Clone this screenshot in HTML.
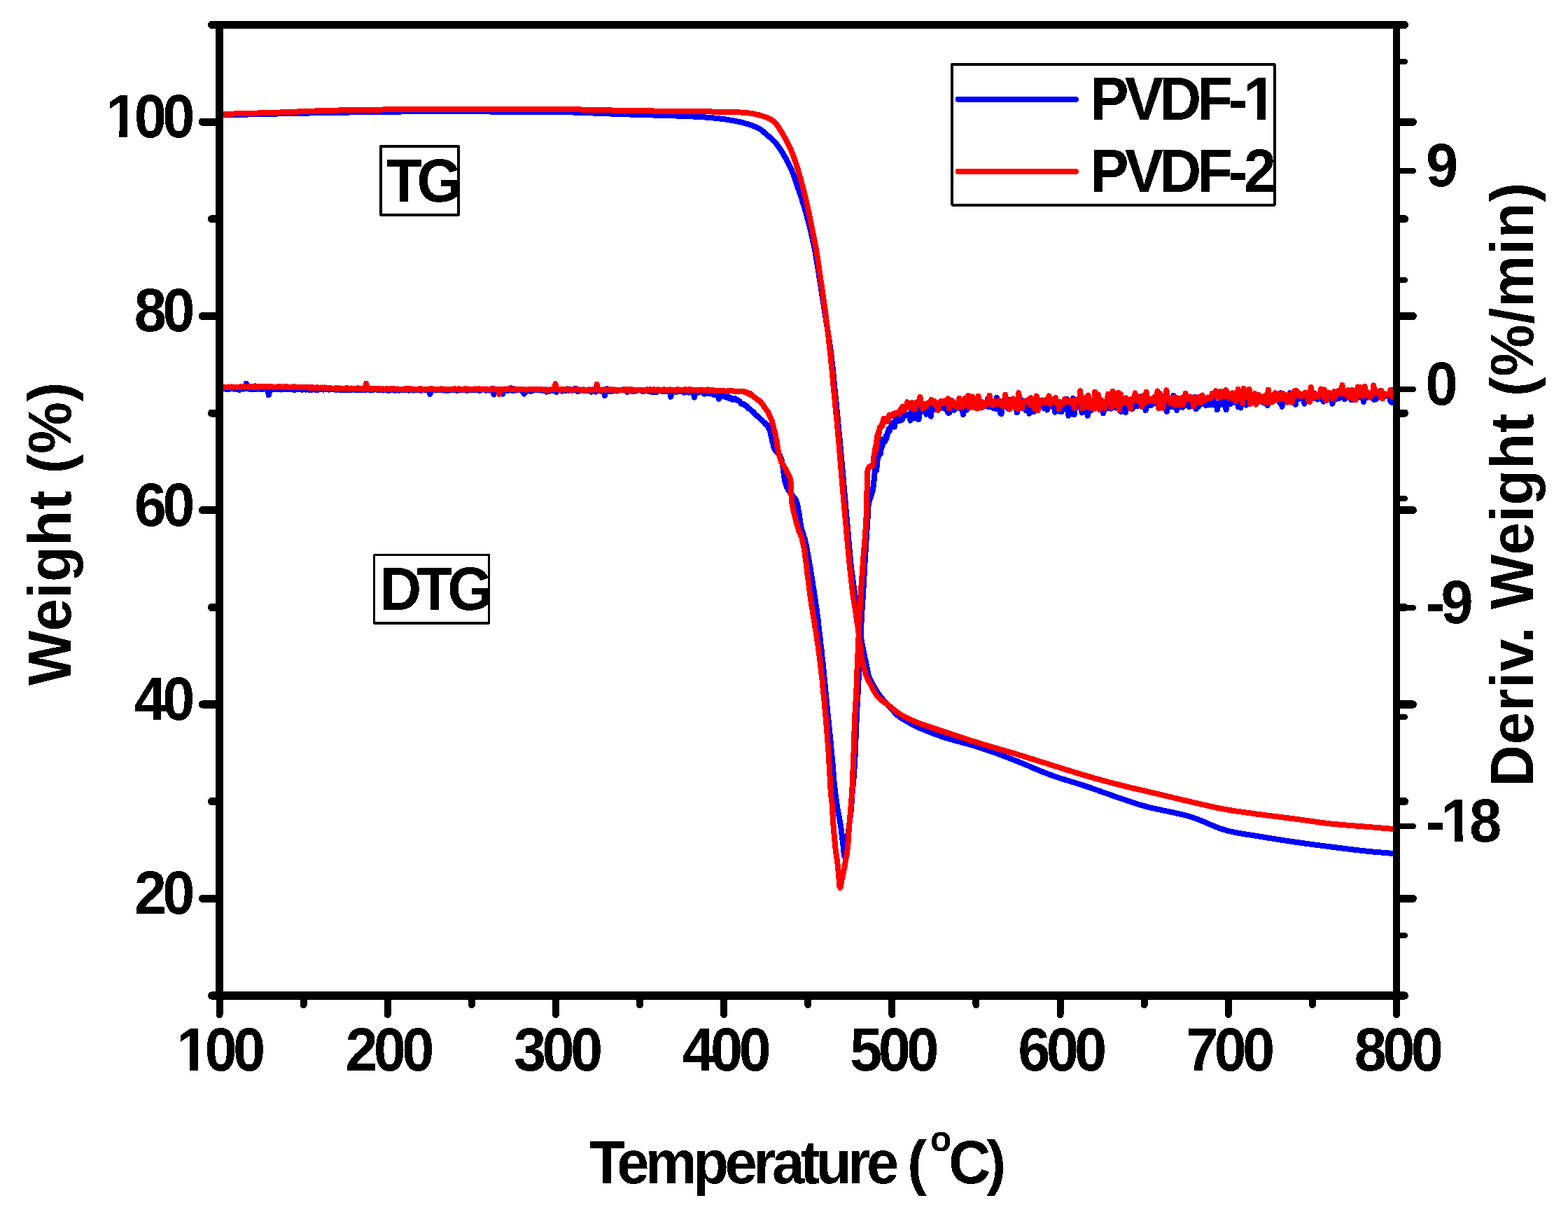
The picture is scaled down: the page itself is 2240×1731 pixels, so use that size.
<!DOCTYPE html>
<html><head><meta charset="utf-8"><title>TGA PVDF</title><style>html,body{margin:0;padding:0;background:#fff;overflow:hidden}svg{display:block}</style></head><body>
<svg width="2240" height="1731" viewBox="0 0 2240 1731" font-family="'Liberation Sans', Arial, sans-serif" font-weight="bold" fill="#000" shape-rendering="crispEdges"><defs><clipPath id="pc"><rect x="308" y="30" width="1692" height="1398"/></clipPath><filter id="bin" x="0" y="0" width="2240" height="1731" filterUnits="userSpaceOnUse" color-interpolation-filters="sRGB"><feComponentTransfer><feFuncA type="discrete" tableValues="0 1"/></feComponentTransfer></filter></defs>
<g clip-path="url(#pc)">
<polyline points="313.5,164.5 320.1,164.3 328.7,164.1 339.0,163.9 350.5,163.6 362.8,163.3 375.4,163.0 388.0,162.7 400.0,162.4 411.9,162.1 424.1,161.9 436.5,161.6 449.2,161.4 461.9,161.2 474.7,160.9 487.4,160.7 500.0,160.5 512.5,160.3 525.0,160.1 537.5,159.9 550.0,159.8 562.5,159.6 575.0,159.5 587.5,159.4 600.0,159.3 612.5,159.3 625.0,159.2 637.5,159.3 650.0,159.3 662.5,159.3 675.0,159.4 687.5,159.5 700.0,159.5 712.5,159.5 725.0,159.5 737.5,159.5 750.0,159.5 762.5,159.6 775.0,159.7 787.5,159.8 800.0,160.0 812.5,160.3 825.0,160.7 837.5,161.1 850.0,161.6 862.5,162.1 875.0,162.6 887.5,163.0 900.0,163.5 912.8,163.9 926.2,164.3 939.7,164.7 953.1,165.1 966.2,165.5 978.5,166.0 989.9,166.5 1000.0,167.0 1008.8,167.6 1016.5,168.2 1023.3,168.9 1029.4,169.6 1034.9,170.3 1040.1,171.1 1045.0,171.9 1050.0,172.8 1054.8,173.7 1059.3,174.7 1063.4,175.8 1067.2,176.9 1070.7,178.0 1074.0,179.1 1077.1,180.3 1080.0,181.5 1082.6,182.7 1084.8,183.8 1086.6,185.0 1088.3,186.2 1089.9,187.5 1091.5,188.9 1093.1,190.4 1095.0,192.0 1097.0,193.7 1099.1,195.5 1101.2,197.4 1103.4,199.4 1105.5,201.5 1107.7,203.9 1109.9,206.4 1112.0,209.2 1114.2,212.3 1116.4,215.7 1118.6,219.4 1120.8,223.2 1123.0,227.1 1125.1,231.1 1127.1,235.0 1128.9,238.8 1130.6,242.5 1132.1,246.2 1133.6,249.9 1134.9,253.7 1136.2,257.4 1137.5,261.1 1138.7,264.8 1140.0,268.5 1141.3,272.2 1142.5,275.9 1143.8,279.6 1145.0,283.3 1146.2,287.0 1147.4,290.7 1148.5,294.4 1149.6,298.1 1150.7,301.8 1151.7,305.5 1152.7,309.2 1153.7,312.9 1154.7,316.6 1155.7,320.3 1156.6,324.0 1157.5,327.7 1158.4,331.4 1159.3,335.1 1160.1,338.8 1160.9,342.5 1161.7,346.2 1162.5,349.9 1163.3,353.6 1164.0,357.3 1164.7,360.8 1165.3,364.1 1165.8,367.3 1166.4,370.5 1166.9,374.0 1167.5,377.7 1168.2,382.0 1169.0,386.9 1169.9,392.5 1170.9,398.6 1171.9,405.3 1173.0,412.2 1174.1,419.5 1175.2,426.9 1176.4,434.3 1177.5,441.6 1178.7,449.0 1179.9,456.5 1181.1,464.2 1182.4,472.0 1183.6,479.8 1184.8,487.6 1185.9,495.5 1187.0,503.2 1188.0,510.9 1188.8,518.6 1189.7,526.3 1190.5,534.0 1191.2,541.7 1192.0,549.4 1192.7,557.1 1193.5,564.8 1194.3,572.5 1195.1,580.4 1195.8,588.2 1196.6,596.0 1197.3,603.8 1198.1,611.4 1198.8,619.0 1199.5,626.4 1200.2,633.6 1200.8,640.5 1201.4,647.3 1202.0,654.0 1202.6,660.7 1203.2,667.5 1203.9,674.4 1204.5,681.6 1205.2,689.0 1205.8,696.6 1206.5,704.2 1207.2,712.0 1207.9,719.8 1208.6,727.7 1209.3,735.5 1210.0,743.2 1210.7,751.0 1211.4,759.0 1212.0,767.0 1212.7,775.0 1213.4,782.9 1214.1,790.6 1214.8,797.9 1215.5,804.8 1216.2,811.4 1217.0,817.9 1217.9,824.2 1218.7,830.2 1219.5,835.9 1220.2,841.1 1220.9,845.8 1221.5,850.0 1222.0,853.3 1222.3,855.7 1222.6,857.5 1222.8,858.9 1223.1,860.3 1223.3,861.8 1223.6,863.7 1224.0,866.4 1224.5,869.8 1225.0,873.8 1225.6,878.1 1226.2,882.7 1226.8,887.3 1227.4,891.8 1227.9,896.1 1228.5,900.0 1229.0,903.5 1229.5,906.9 1230.0,910.0 1230.5,913.1 1231.0,916.0 1231.5,918.9 1232.0,921.7 1232.5,924.6 1233.0,927.4 1233.6,930.2 1234.2,932.9 1234.7,935.6 1235.3,938.2 1235.9,940.8 1236.4,943.4 1237.0,946.0 1237.5,948.7 1238.1,951.4 1238.6,954.1 1239.1,956.8 1239.7,959.4 1240.2,961.9 1240.8,964.3 1241.5,966.5 1242.2,968.5 1243.0,970.3 1243.8,972.0 1244.6,973.6 1245.4,975.1 1246.3,976.6 1247.1,978.1 1248.0,979.6 1248.8,981.1 1249.7,982.6 1250.5,984.1 1251.4,985.5 1252.3,986.9 1253.2,988.3 1254.1,989.7 1255.0,991.0 1256.0,992.3 1256.9,993.6 1257.9,994.9 1258.9,996.2 1260.0,997.4 1261.0,998.6 1262.0,999.8 1263.0,1001.0 1264.0,1002.1 1264.9,1003.1 1265.9,1004.1 1266.8,1005.1 1267.8,1006.1 1268.8,1007.2 1269.9,1008.3 1271.0,1009.5 1272.2,1010.9 1273.5,1012.3 1274.9,1013.9 1276.2,1015.5 1277.7,1017.1 1279.1,1018.7 1280.6,1020.1 1282.1,1021.5 1283.6,1022.7 1285.2,1023.9 1286.8,1025.0 1288.4,1026.1 1290.1,1027.1 1291.7,1028.1 1293.4,1029.0 1295.0,1030.0 1296.6,1031.0 1298.3,1031.9 1300.0,1032.8 1301.7,1033.7 1303.3,1034.6 1305.0,1035.4 1306.6,1036.2 1308.2,1037.0 1309.6,1037.7 1310.8,1038.3 1311.9,1038.9 1313.1,1039.4 1314.3,1040.0 1315.8,1040.6 1317.7,1041.4 1320.0,1042.3 1322.7,1043.4 1325.8,1044.6 1329.0,1045.9 1332.6,1047.3 1336.5,1048.8 1340.7,1050.3 1345.2,1051.9 1350.0,1053.5 1355.3,1055.1 1361.1,1056.8 1367.3,1058.5 1373.8,1060.2 1380.4,1062.0 1387.0,1063.9 1393.6,1065.8 1400.0,1067.8 1406.2,1069.9 1412.5,1072.0 1418.8,1074.2 1425.0,1076.5 1431.2,1078.8 1437.5,1081.2 1443.8,1083.6 1450.0,1086.0 1456.2,1088.5 1462.5,1091.1 1468.8,1093.7 1475.0,1096.4 1481.2,1099.0 1487.5,1101.6 1493.8,1104.1 1500.0,1106.5 1506.2,1108.7 1512.5,1110.8 1518.8,1112.8 1525.0,1114.7 1531.2,1116.6 1537.5,1118.5 1543.8,1120.5 1550.0,1122.5 1556.3,1124.6 1562.7,1126.9 1569.2,1129.2 1575.6,1131.5 1582.0,1133.7 1588.2,1135.9 1594.2,1138.0 1600.0,1140.0 1605.3,1141.8 1610.2,1143.5 1614.9,1145.0 1619.4,1146.5 1624.0,1148.0 1628.8,1149.5 1634.1,1151.0 1640.0,1152.6 1646.6,1154.2 1653.8,1155.8 1661.5,1157.4 1669.4,1159.0 1677.4,1160.7 1685.2,1162.5 1692.8,1164.3 1700.0,1166.3 1706.7,1168.5 1713.2,1170.9 1719.5,1173.5 1725.6,1176.2 1731.7,1178.8 1737.7,1181.3 1743.8,1183.5 1750.0,1185.5 1756.2,1187.1 1762.5,1188.5 1768.8,1189.7 1775.0,1190.8 1781.2,1191.8 1787.5,1192.7 1793.8,1193.7 1800.0,1194.7 1806.2,1195.8 1812.5,1196.8 1818.8,1197.8 1825.0,1198.8 1831.2,1199.8 1837.5,1200.7 1843.8,1201.7 1850.0,1202.6 1856.2,1203.5 1862.5,1204.4 1868.8,1205.2 1875.0,1206.1 1881.2,1206.9 1887.5,1207.7 1893.8,1208.5 1900.0,1209.3 1906.3,1210.1 1912.6,1210.9 1918.9,1211.7 1925.2,1212.5 1931.5,1213.3 1937.7,1214.0 1943.9,1214.7 1950.0,1215.4 1956.3,1216.0 1963.1,1216.7 1969.9,1217.3 1976.6,1217.8 1982.9,1218.4 1988.6,1218.8 1993.4,1219.2 1997.0,1219.5" fill="none" stroke="#0000ff" stroke-width="8" stroke-linejoin="round" stroke-linecap="round"/>
<polyline points="313.5,554.4 315.1,555.2 316.7,554.4 318.3,555.0 319.9,554.5 321.5,554.5 323.1,555.9 324.7,555.6 326.3,556.4 327.9,555.0 329.5,555.2 331.1,555.3 332.7,555.4 334.3,555.6 335.9,554.4 337.5,555.7 339.1,554.6 340.7,555.3 342.3,557.0 343.9,555.4 345.5,555.3 347.1,555.8 348.7,555.5 350.3,555.0 351.9,547.7 353.5,555.3 355.1,555.0 356.7,556.1 358.3,555.8 359.9,556.3 361.5,556.1 363.1,555.7 364.7,555.6 366.3,555.6 367.9,555.5 369.5,555.4 371.1,555.8 372.7,555.2 374.3,555.8 375.9,555.8 377.5,554.3 379.1,554.8 380.7,556.5 382.3,555.8 383.9,564.4 385.5,556.3 387.1,556.2 388.7,556.0 390.3,555.4 391.9,556.4 393.5,556.1 395.1,555.7 396.7,555.8 398.3,556.3 399.9,556.4 401.5,556.6 403.1,555.6 404.7,556.4 406.3,556.5 407.9,556.4 409.5,555.7 411.1,556.4 412.7,554.9 414.3,556.0 415.9,555.4 417.5,556.2 419.1,556.4 420.7,557.2 422.3,555.8 423.9,556.4 425.5,554.8 427.1,555.9 428.7,555.8 430.3,556.3 431.9,556.8 433.5,556.0 435.1,555.9 436.7,556.6 438.3,556.4 439.9,556.3 441.5,556.7 443.1,556.5 444.7,557.0 446.3,555.9 447.9,556.2 449.5,556.5 451.1,557.0 452.7,555.4 454.3,557.0 455.9,556.4 457.5,556.5 459.1,556.4 460.7,555.9 462.3,556.6 463.9,555.8 465.5,556.5 467.1,555.9 468.7,556.3 470.3,556.6 471.9,556.3 473.5,555.3 475.1,556.5 476.7,555.9 478.3,556.0 479.9,556.9 481.5,556.2 483.1,556.4 484.7,557.1 486.3,556.5 487.9,556.8 489.5,556.5 491.1,556.7 492.7,556.6 494.3,556.5 495.9,556.9 497.5,556.9 499.1,556.0 500.7,556.9 502.3,556.9 503.9,555.9 505.5,556.4 507.1,557.2 508.7,556.1 510.3,557.1 511.9,556.3 513.5,556.8 515.1,556.7 516.7,555.7 518.3,557.1 519.9,557.0 521.5,556.9 523.1,556.8 524.7,556.4 526.3,555.8 527.9,556.8 529.5,557.5 531.1,555.0 532.7,556.7 534.3,556.6 535.9,556.4 537.5,556.3 539.1,557.1 540.7,557.4 542.3,556.8 543.9,556.9 545.5,556.3 547.1,557.6 548.7,557.4 550.3,557.0 551.9,557.1 553.5,556.3 555.1,558.1 556.7,556.8 558.3,556.7 559.9,556.5 561.5,557.3 563.1,557.1 564.7,557.8 566.3,556.1 567.9,556.7 569.5,558.0 571.1,556.9 572.7,555.9 574.3,557.3 575.9,556.9 577.5,556.4 579.1,556.6 580.7,556.8 582.3,556.9 583.9,557.7 585.5,556.6 587.1,556.7 588.7,556.9 590.3,557.5 591.9,557.5 593.5,557.0 595.1,557.5 596.7,556.7 598.3,557.2 599.9,557.2 601.5,557.8 603.1,556.6 604.7,556.6 606.3,557.0 607.9,557.5 609.5,556.7 611.1,557.4 612.7,557.1 614.3,563.2 615.9,557.1 617.5,556.8 619.1,556.9 620.7,556.6 622.3,557.0 623.9,556.6 625.5,557.2 627.1,557.2 628.7,557.3 630.3,556.0 631.9,556.8 633.5,557.1 635.1,557.8 636.7,556.8 638.3,557.4 639.9,558.0 641.5,557.0 643.1,556.9 644.7,556.6 646.3,556.2 647.9,557.4 649.5,556.9 651.1,556.9 652.7,558.1 654.3,556.3 655.9,557.0 657.5,556.4 659.1,557.2 660.7,557.0 662.3,556.3 663.9,556.9 665.5,557.2 667.1,557.9 668.7,557.1 670.3,557.0 671.9,557.0 673.5,556.5 675.1,556.3 676.7,557.2 678.3,557.1 679.9,556.7 681.5,556.7 683.1,557.1 684.7,558.0 686.3,557.1 687.9,557.4 689.5,556.4 691.1,555.6 692.7,556.9 694.3,557.7 695.9,556.6 697.5,556.1 699.1,557.6 700.7,557.2 702.3,555.3 703.9,557.8 705.5,563.5 707.1,556.1 708.7,556.0 710.3,556.6 711.9,556.3 713.5,556.1 715.1,556.8 716.7,556.5 718.3,562.7 719.9,557.0 721.5,556.3 723.1,557.4 724.7,558.0 726.3,558.1 727.9,556.4 729.5,554.1 731.1,555.8 732.7,558.3 734.3,557.7 735.9,557.7 737.5,556.9 739.1,555.8 740.7,557.2 742.3,556.1 743.9,557.7 745.5,556.8 747.1,558.6 748.7,562.6 750.3,556.4 751.9,558.1 753.5,558.6 755.1,557.2 756.7,556.9 758.3,559.1 759.9,558.2 761.5,558.0 763.1,557.1 764.7,557.0 766.3,556.1 767.9,556.8 769.5,556.9 771.1,557.3 772.7,557.6 774.3,555.9 775.9,557.8 777.5,556.4 779.1,556.8 780.7,559.8 782.3,557.3 783.9,558.9 785.5,558.7 787.1,556.8 788.7,557.9 790.3,556.1 791.9,556.6 793.5,557.4 795.1,560.1 796.7,557.7 798.3,557.5 799.9,557.0 801.5,557.1 803.1,558.7 804.7,558.2 806.3,556.6 807.9,558.2 809.5,557.4 811.1,555.5 812.7,557.9 814.3,556.1 815.9,556.8 817.5,557.8 819.1,555.8 820.7,555.0 822.3,557.4 823.9,555.2 825.5,559.2 827.1,558.7 828.7,556.5 830.3,557.1 831.9,557.6 833.5,557.1 835.1,558.3 836.7,558.0 838.3,557.4 839.9,558.1 841.5,557.2 843.1,558.0 844.7,559.7 846.3,556.5 847.9,557.9 849.5,556.8 851.1,559.6 852.7,556.8 854.3,557.0 855.9,558.4 857.5,558.1 859.1,558.9 860.7,558.4 862.3,556.6 863.9,565.1 865.5,557.2 867.1,555.4 868.7,556.7 870.3,558.9 871.9,558.3 873.5,559.2 875.1,558.6 876.7,557.4 878.3,557.4 879.9,557.9 881.5,558.6 883.1,558.0 884.7,556.9 886.3,557.3 887.9,556.9 889.5,557.3 891.1,555.8 892.7,557.0 894.3,556.3 895.9,559.9 897.5,556.4 899.1,557.5 900.7,556.3 902.3,559.0 903.9,559.3 905.5,558.4 907.1,558.7 908.7,558.4 910.3,558.0 911.9,557.1 913.5,556.8 915.1,556.9 916.7,558.5 918.3,558.7 919.9,558.6 921.5,557.9 923.1,556.9 924.7,558.1 926.3,558.9 927.9,556.5 929.5,557.8 931.1,560.0 932.7,556.9 934.3,559.5 935.9,558.1 937.5,560.1 939.1,557.8 940.7,557.7 942.3,558.4 943.9,558.5 945.5,558.7 947.1,559.0 948.7,557.1 950.3,559.1 951.9,559.3 953.5,557.2 955.1,558.5 956.7,558.1 958.3,566.8 959.9,559.8 961.5,557.2 963.1,558.7 964.7,558.4 966.3,560.2 967.9,558.5 969.5,559.2 971.1,558.0 972.7,559.3 974.3,558.4 975.9,560.1 977.5,560.7 979.1,559.9 980.7,559.6 982.3,558.3 983.9,560.5 985.5,556.8 987.1,560.1 988.7,560.5 990.3,559.6 991.9,567.6 993.5,559.3 995.1,560.1 996.7,561.2 998.3,559.1 999.9,559.8 1001.5,559.7 1003.1,559.5 1004.7,559.2 1006.2,562.6 1007.8,559.6 1009.4,562.3 1011.0,562.1 1012.6,561.9 1014.2,559.7 1015.8,562.5 1017.4,561.8 1018.9,562.6 1020.5,564.4 1022.0,563.8 1023.6,562.2 1025.1,562.3 1026.7,569.9 1028.2,565.4 1029.8,566.7 1031.3,565.1 1032.9,566.5 1034.4,566.1 1036.0,567.2 1037.5,567.4 1039.1,567.9 1040.6,566.5 1042.1,569.2 1043.7,567.9 1045.2,570.2 1046.7,570.9 1048.2,569.9 1049.7,569.0 1051.1,571.0 1052.6,571.6 1054.1,571.4 1055.5,572.8 1056.9,573.5 1058.3,575.8 1059.7,577.2 1061.1,577.4 1062.4,577.1 1063.7,578.2 1065.0,579.6 1066.3,579.6 1067.6,581.0 1068.8,583.3 1070.0,583.5 1071.2,584.1 1072.4,585.7 1073.6,586.6 1074.8,587.4 1075.9,588.4 1077.1,589.3 1078.2,591.4 1079.4,592.2 1080.6,593.7 1081.7,594.0 1082.9,595.2 1084.0,596.0 1085.2,597.4 1086.4,598.5 1087.6,599.4 1088.8,600.2 1090.0,601.9 1091.1,603.0 1092.2,603.2 1093.3,605.8 1094.3,605.7 1095.3,606.8 1096.3,608.6 1097.2,609.4 1098.0,612.1 1098.8,613.0 1099.4,613.5 1100.0,616.1 1100.5,617.2 1100.9,619.5 1101.3,621.1 1101.7,623.0 1102.0,624.1 1102.3,625.2 1102.6,627.4 1103.0,629.6 1103.3,629.4 1103.6,630.8 1104.0,633.6 1104.4,633.8 1104.8,635.9 1105.3,638.3 1105.8,639.8 1106.4,640.8 1107.2,642.6 1108.1,644.3 1109.1,644.2 1110.2,645.8 1111.3,647.0 1112.3,648.1 1113.3,650.1 1114.2,650.6 1114.9,652.4 1115.5,654.1 1116.1,655.1 1116.5,656.6 1116.8,658.5 1117.2,660.2 1117.5,662.2 1117.7,663.3 1118.0,664.8 1118.3,667.1 1118.5,667.3 1118.7,669.1 1118.9,669.9 1119.1,672.7 1119.4,674.6 1119.6,675.9 1119.8,677.7 1120.0,678.4 1120.2,681.1 1120.5,682.2 1120.7,684.1 1121.0,685.2 1121.3,687.6 1121.7,687.8 1122.0,690.2 1122.5,691.2 1123.0,692.8 1123.6,694.8 1124.2,696.2 1125.0,697.3 1125.8,699.4 1126.7,700.2 1127.6,701.4 1128.5,701.8 1129.4,704.8 1130.3,704.7 1131.1,706.5 1132.1,708.1 1133.1,708.7 1134.1,710.2 1135.1,711.2 1136.0,713.1 1136.7,714.2 1137.5,715.1 1138.0,717.7 1138.6,719.0 1139.0,721.0 1139.3,721.9 1139.7,723.6 1140.0,724.2 1140.3,726.3 1140.6,728.9 1140.8,729.9 1141.1,731.4 1141.3,733.9 1141.6,734.1 1141.8,735.9 1142.0,738.1 1142.2,739.7 1142.5,740.5 1142.7,742.1 1143.0,744.9 1143.2,746.2 1143.5,747.7 1143.8,749.5 1144.1,750.9 1144.4,752.2 1144.8,753.7 1145.2,755.1 1145.5,756.9 1146.0,758.2 1146.5,760.1 1147.0,761.3 1147.5,762.4 1148.0,764.5 1148.5,767.4 1149.0,767.7 1149.4,768.9 1149.8,770.8 1150.2,770.8 1150.6,773.8 1150.9,775.7 1151.3,776.5 1151.6,778.1 1151.9,779.6 1152.2,781.8 1152.5,782.4 1152.8,783.7 1153.1,786.6 1153.4,787.7 1153.7,789.6 1154.0,790.9 1154.3,792.6 1154.6,793.7 1154.8,796.0 1155.1,797.3 1155.4,798.4 1155.7,800.0 1156.0,801.4 1156.2,803.5 1156.5,805.3 1156.8,806.4 1157.0,807.7 1157.3,810.1 1157.6,811.1 1157.8,812.9 1158.1,814.4 1158.3,816.9 1158.6,818.1 1158.9,819.0 1159.1,820.7 1159.4,822.6 1159.6,824.0 1159.9,825.3 1160.1,827.5 1160.4,828.5 1160.6,829.8 1160.9,832.0 1161.1,833.6 1161.4,834.5 1161.6,836.8 1161.9,838.0 1162.1,840.1 1162.4,842.0 1162.6,843.0 1162.8,844.9 1163.1,846.0 1163.3,847.8 1163.6,849.9 1163.8,851.0 1164.0,852.1 1164.3,853.5 1164.5,855.7 1164.7,856.8 1164.9,859.2 1165.2,859.8 1165.4,862.2 1165.6,863.5 1165.8,865.2 1166.0,867.0 1166.3,868.7 1166.5,869.7 1166.7,871.3 1166.9,873.4 1167.1,874.7 1167.3,875.6 1167.5,877.4 1167.7,879.8 1167.9,881.0 1168.1,882.4 1168.3,884.8 1168.5,884.7 1168.7,886.4 1168.9,889.6 1169.1,890.1 1169.3,891.6 1169.5,893.9 1169.7,895.5 1169.9,896.4 1170.1,898.7 1170.3,900.4 1170.5,901.8 1170.7,903.1 1170.8,904.6 1171.0,906.0 1171.2,907.6 1171.4,909.7 1171.6,910.4 1171.8,912.4 1172.0,914.7 1172.1,915.7 1172.3,917.1 1172.5,919.7 1172.7,921.5 1172.9,922.0 1173.0,923.1 1173.2,925.4 1173.4,927.0 1173.6,927.9 1173.7,930.0 1173.9,932.0 1174.1,933.5 1174.3,935.0 1174.4,936.9 1174.6,938.5 1174.8,940.2 1174.9,942.1 1175.1,942.9 1175.3,945.1 1175.4,946.0 1175.6,947.3 1175.7,948.8 1175.9,951.6 1176.1,951.9 1176.2,953.8 1176.4,956.0 1176.5,956.4 1176.7,958.6 1176.8,960.1 1177.0,961.0 1177.2,963.0 1177.3,965.0 1177.5,966.3 1177.6,969.7 1177.8,969.3 1177.9,971.6 1178.1,973.2 1178.2,975.0 1178.4,976.3 1178.5,977.4 1178.7,979.3 1178.8,981.4 1179.0,981.8 1179.1,983.6 1179.3,985.3 1179.4,987.2 1179.6,988.5 1179.7,990.8 1179.9,992.5 1180.0,993.6 1180.2,995.4 1180.4,996.8 1180.5,998.5 1180.7,1000.3 1180.8,1002.4 1181.0,1003.6 1181.1,1005.0 1181.3,1006.8 1181.5,1008.3 1181.6,1010.1 1181.8,1012.3 1181.9,1013.1 1182.1,1014.1 1182.3,1015.7 1182.4,1017.1 1182.6,1020.4 1182.7,1019.7 1182.9,1022.4 1183.1,1023.8 1183.2,1025.8 1183.4,1027.4 1183.5,1028.6 1183.7,1031.0 1183.9,1032.1 1184.0,1033.6 1184.2,1035.4 1184.3,1036.0 1184.5,1038.8 1184.7,1039.2 1184.8,1042.1 1185.0,1043.0 1185.1,1044.9 1185.3,1046.3 1185.5,1047.6 1185.6,1049.9 1185.8,1050.7 1185.9,1053.3 1186.1,1054.7 1186.2,1055.7 1186.4,1057.5 1186.6,1058.8 1186.7,1060.6 1186.9,1062.0 1187.0,1063.6 1187.2,1065.9 1187.3,1066.7 1187.5,1068.9 1187.6,1070.5 1187.8,1072.8 1187.9,1074.6 1188.1,1076.0 1188.2,1076.7 1188.4,1078.7 1188.5,1079.7 1188.7,1082.2 1188.8,1083.2 1189.0,1085.0 1189.1,1085.9 1189.2,1087.4 1189.4,1088.6 1189.5,1090.3 1189.6,1091.9 1189.8,1094.1 1189.9,1095.6 1190.0,1096.8 1190.2,1098.7 1190.3,1100.8 1190.4,1102.0 1190.6,1103.7 1190.7,1104.8 1190.8,1106.5 1191.0,1107.0 1191.1,1110.4 1191.2,1111.6 1191.4,1111.8 1191.5,1115.9 1191.7,1117.6 1191.8,1118.5 1192.0,1119.1 1192.1,1121.4 1192.3,1122.3 1192.5,1125.0 1192.6,1125.5 1192.8,1127.0 1193.0,1129.4 1193.2,1130.7 1193.3,1133.1 1193.5,1134.1 1193.7,1135.0 1193.9,1137.7 1194.1,1138.1 1194.3,1140.4 1194.5,1141.6 1194.8,1143.9 1195.0,1145.2 1195.2,1146.9 1195.4,1148.5 1195.7,1149.0 1195.9,1150.7 1196.2,1153.2 1196.4,1155.3 1196.7,1156.4 1197.0,1158.4 1197.3,1159.1 1197.6,1161.2 1197.9,1161.8 1198.2,1163.5 1198.5,1165.4 1198.8,1166.6 1199.1,1169.4 1199.4,1170.0 1199.7,1172.6 1200.0,1173.4 1200.3,1174.8 1200.5,1177.1 1200.8,1177.4 1201.0,1180.2 1201.3,1180.1 1201.5,1182.9 1201.7,1184.6 1201.9,1186.7 1202.1,1187.5 1202.3,1190.2 1202.5,1191.3 1202.7,1192.2 1202.9,1193.9 1203.1,1195.7 1203.3,1196.1 1203.5,1199.3 1203.6,1200.2 1203.8,1201.7 1204.0,1203.9 1204.2,1204.9 1204.3,1207.2 1204.5,1207.5 1204.7,1210.8 1204.9,1212.1 1205.1,1212.5 1205.3,1215.3 1205.4,1217.3 1205.6,1217.2 1205.7,1219.0 1205.9,1221.2 1206.1,1222.3 1206.7,1223.4 1207.3,1223.0 1207.6,1220.9 1207.8,1218.8 1208.1,1216.1 1208.3,1215.6 1208.6,1215.1 1208.8,1213.2 1209.0,1211.9 1209.2,1209.9 1209.4,1208.1 1209.5,1206.1 1209.7,1204.5 1209.9,1203.4 1210.1,1201.1 1210.3,1201.3 1210.5,1198.8 1210.6,1197.6 1210.8,1195.6 1211.0,1194.7 1211.2,1193.0 1211.4,1191.3 1211.6,1189.7 1211.8,1187.2 1212.0,1186.0 1212.2,1184.3 1212.5,1183.0 1212.7,1180.8 1212.9,1179.5 1213.1,1178.3 1213.4,1176.3 1213.6,1174.4 1213.8,1173.7 1214.0,1171.7 1214.3,1170.2 1214.5,1168.5 1214.7,1166.2 1214.9,1165.7 1215.1,1163.9 1215.2,1161.7 1215.4,1159.9 1215.6,1159.4 1215.7,1157.7 1215.9,1155.6 1216.0,1154.8 1216.2,1153.3 1216.3,1150.9 1216.4,1149.2 1216.5,1148.2 1216.6,1146.0 1216.7,1145.1 1216.8,1142.6 1216.9,1141.8 1217.0,1140.5 1217.2,1138.6 1217.3,1136.8 1217.4,1135.4 1217.5,1133.2 1217.6,1132.0 1217.7,1130.9 1217.9,1128.8 1218.0,1126.1 1218.2,1124.9 1218.3,1123.7 1218.5,1122.7 1218.7,1120.6 1218.9,1119.8 1219.0,1117.8 1219.2,1116.1 1219.3,1114.6 1219.5,1112.3 1219.6,1111.1 1219.7,1110.4 1219.8,1108.3 1220.0,1106.1 1220.1,1105.0 1220.2,1102.6 1220.3,1102.3 1220.4,1100.3 1220.5,1098.4 1220.6,1096.8 1220.7,1095.2 1220.8,1093.7 1220.9,1091.5 1221.0,1089.2 1221.1,1089.0 1221.1,1086.8 1221.2,1085.2 1221.3,1084.3 1221.4,1082.5 1221.5,1080.7 1221.5,1079.0 1221.6,1077.2 1221.7,1075.7 1221.7,1075.7 1221.8,1073.0 1221.9,1071.8 1222.0,1070.4 1222.0,1068.8 1222.1,1066.1 1222.2,1065.1 1222.2,1062.6 1222.3,1061.8 1222.3,1060.8 1222.4,1059.0 1222.5,1057.1 1222.5,1055.8 1222.6,1053.2 1222.7,1051.8 1222.7,1050.8 1222.8,1048.5 1222.9,1047.8 1222.9,1045.7 1223.0,1044.1 1223.1,1043.3 1223.1,1041.8 1223.2,1039.7 1223.2,1037.1 1223.3,1036.4 1223.4,1035.0 1223.4,1032.7 1223.5,1031.4 1223.6,1029.5 1223.6,1028.9 1223.7,1026.7 1223.8,1024.8 1223.9,1023.6 1223.9,1021.8 1224.0,1019.9 1224.1,1018.8 1224.1,1017.6 1224.2,1015.4 1224.3,1013.1 1224.4,1012.0 1224.5,1010.1 1224.6,1008.7 1224.6,1008.3 1224.7,1005.8 1224.8,1004.3 1224.9,1002.5 1225.0,1001.4 1225.1,999.3 1225.2,998.2 1225.3,996.4 1225.4,994.4 1225.5,992.5 1225.6,991.0 1225.6,989.2 1225.7,987.3 1225.8,987.7 1225.9,985.4 1226.0,983.5 1226.1,982.4 1226.1,980.8 1226.2,978.4 1226.3,977.2 1226.4,976.6 1226.4,973.7 1226.5,972.1 1226.6,970.4 1226.7,968.9 1226.7,967.6 1226.8,965.7 1226.9,964.9 1227.0,962.8 1227.0,961.6 1227.1,958.7 1227.2,957.5 1227.3,956.2 1227.3,954.3 1227.4,953.0 1227.5,951.2 1227.6,949.9 1227.6,948.9 1227.7,946.5 1227.8,944.7 1227.9,944.1 1227.9,942.9 1228.0,939.9 1228.1,939.2 1228.2,937.1 1228.2,934.9 1228.3,933.4 1228.4,931.0 1228.5,930.5 1228.5,929.9 1228.6,926.6 1228.7,926.2 1228.8,923.6 1228.9,922.7 1228.9,920.2 1229.0,919.9 1229.1,916.6 1229.2,916.1 1229.2,915.1 1229.3,913.0 1229.4,912.2 1229.5,909.6 1229.6,907.8 1229.6,906.8 1229.7,905.4 1229.8,903.6 1229.9,901.5 1229.9,900.3 1230.0,899.3 1230.1,897.3 1230.2,895.8 1230.3,893.8 1230.4,891.6 1230.4,891.5 1230.5,889.5 1230.6,886.2 1230.7,886.7 1230.8,885.6 1230.9,881.9 1230.9,881.3 1231.0,878.7 1231.1,877.6 1231.2,876.6 1231.3,873.8 1231.4,873.3 1231.5,871.4 1231.6,870.1 1231.7,868.6 1231.8,867.7 1231.9,864.5 1232.0,864.5 1232.1,862.3 1232.2,860.3 1232.3,859.4 1232.4,856.6 1232.6,855.4 1232.7,854.2 1232.8,852.7 1232.9,850.9 1232.9,849.1 1233.0,847.9 1233.1,845.4 1233.2,844.2 1233.3,843.0 1233.4,841.1 1233.5,839.3 1233.6,838.8 1233.7,836.7 1233.8,835.2 1233.9,833.6 1234.0,830.3 1234.0,830.3 1234.1,828.0 1234.2,826.9 1234.3,825.2 1234.4,823.9 1234.5,822.1 1234.6,820.5 1234.7,818.9 1234.8,816.5 1234.9,815.7 1235.0,814.5 1235.0,812.5 1235.1,810.5 1235.2,808.9 1235.3,807.5 1235.4,806.5 1235.5,803.9 1235.6,803.2 1235.7,801.6 1235.8,799.5 1235.9,798.3 1236.0,796.3 1236.1,794.8 1236.2,793.6 1236.3,791.4 1236.4,790.0 1236.5,789.1 1236.6,787.3 1236.7,784.2 1236.8,783.7 1236.9,782.7 1237.0,780.5 1237.1,778.5 1237.2,776.9 1237.3,775.0 1237.4,774.2 1237.5,772.3 1237.6,771.0 1237.7,769.8 1237.8,767.0 1237.9,765.6 1238.0,764.5 1238.1,762.4 1238.2,761.4 1238.3,759.3 1238.4,758.1 1238.5,757.0 1238.6,754.2 1238.7,753.0 1238.8,751.0 1238.9,750.3 1239.0,748.3 1239.1,747.0 1239.2,746.5 1239.3,743.3 1239.4,742.9 1239.5,741.2 1239.5,738.7 1239.6,738.5 1239.7,736.7 1239.8,734.5 1239.9,733.3 1239.9,730.8 1240.0,729.2 1240.1,728.4 1240.2,725.6 1240.3,723.5 1240.5,722.5 1240.8,721.1 1241.0,720.2 1241.4,718.4 1241.7,716.4 1242.1,715.0 1242.6,713.1 1243.0,712.4 1243.5,711.3 1244.0,708.5 1244.5,708.6 1245.0,706.7 1245.4,704.3 1245.9,702.8 1246.3,701.8 1246.7,700.8 1247.0,698.5 1247.3,696.7 1247.6,694.8 1247.8,693.6 1248.0,692.4 1248.2,690.0 1248.3,689.3 1248.5,686.8 1248.6,685.9 1248.8,684.3 1248.9,682.4 1249.0,680.9 1249.2,678.6 1249.3,678.0 1249.5,675.8 1249.7,674.1 1249.8,672.8 1250.0,672.8 1250.3,671.8 1250.6,667.9 1250.9,664.8 1251.3,664.4 1251.6,666.1 1252.0,661.8 1252.4,671.5 1252.9,657.9 1253.4,657.7 1253.8,655.7 1254.3,652.2 1254.8,652.3 1255.3,644.5 1255.8,648.1 1256.3,649.3 1256.9,645.7 1257.4,644.2 1258.0,647.7 1258.5,641.8 1259.1,640.4 1259.6,639.5 1260.2,634.7 1260.7,627.4 1261.3,634.1 1261.9,631.0 1262.5,630.0 1263.1,630.7 1263.7,627.6 1264.4,630.5 1265.1,627.4 1265.8,622.9 1266.5,626.4 1267.2,621.0 1267.9,620.0 1268.5,616.9 1269.1,615.5 1269.6,613.1 1270.1,614.6 1270.6,615.9 1271.1,614.7 1271.7,612.2 1272.5,609.8 1273.4,607.9 1274.4,608.8 1275.5,603.6 1276.7,604.7 1278.0,609.9 1279.3,600.1 1280.6,599.8 1281.9,601.2 1283.2,597.2 1284.6,601.3 1286.0,597.6 1287.4,594.3 1288.8,599.6 1290.3,590.6 1291.7,594.5 1293.1,594.0 1294.6,593.2 1296.1,591.8 1297.5,591.7 1299.0,591.3 1300.5,600.6 1302.0,588.5 1303.5,590.6 1305.0,591.0 1306.5,597.5 1308.0,583.1 1309.5,574.8 1311.0,586.3 1312.5,598.9 1314.1,586.5 1315.6,588.6 1317.2,585.9 1318.7,583.3 1320.3,580.2 1321.9,585.3 1323.4,591.6 1325.0,583.3 1326.6,581.8 1328.2,585.1 1329.8,594.6 1331.4,580.9 1333.0,582.8 1334.6,580.4 1336.2,584.8 1337.8,583.1 1339.4,581.9 1341.0,578.0 1342.6,583.9 1344.2,582.1 1345.8,578.9 1347.4,581.8 1349.0,577.2 1350.6,584.0 1352.2,582.7 1353.7,588.5 1355.3,590.2 1356.9,588.7 1358.5,571.7 1360.1,580.2 1361.7,579.4 1363.3,585.6 1364.9,579.2 1366.5,578.1 1368.1,578.9 1369.7,582.7 1371.3,577.0 1372.9,573.0 1374.5,585.4 1376.1,592.3 1377.7,580.8 1379.3,578.4 1380.9,586.0 1382.5,576.0 1384.1,582.4 1385.7,581.6 1387.3,578.8 1388.9,580.6 1390.5,581.7 1392.1,570.8 1393.7,579.9 1395.3,577.0 1396.9,583.2 1398.5,573.0 1400.1,580.7 1401.7,579.0 1403.3,578.3 1404.9,577.2 1406.5,580.4 1408.1,580.4 1409.7,579.3 1411.3,568.7 1412.9,581.2 1414.5,576.2 1416.1,575.7 1417.7,581.5 1419.3,583.1 1420.9,578.5 1422.5,583.7 1424.1,567.8 1425.7,583.5 1427.3,581.4 1428.9,589.6 1430.5,591.2 1432.1,573.3 1433.7,581.5 1435.3,580.0 1436.9,579.6 1438.5,578.6 1440.1,583.7 1441.7,570.9 1443.3,582.4 1444.9,578.4 1446.5,579.7 1448.1,571.3 1449.7,579.5 1451.3,583.3 1452.9,589.3 1454.5,582.3 1456.1,577.8 1457.7,580.4 1459.3,570.9 1460.9,581.8 1462.5,573.2 1464.1,576.7 1465.7,586.2 1467.3,580.7 1468.9,581.9 1470.5,590.7 1472.1,581.7 1473.7,586.2 1475.3,579.4 1476.9,588.3 1478.5,576.0 1480.1,582.0 1481.7,569.0 1483.3,580.0 1484.9,573.2 1486.5,572.3 1488.1,578.9 1489.7,578.5 1491.3,582.9 1492.9,576.3 1494.5,578.3 1496.1,585.5 1497.7,567.8 1499.3,579.2 1500.9,579.8 1502.5,580.2 1504.1,576.5 1505.7,580.1 1507.3,588.7 1508.9,583.2 1510.5,582.9 1512.1,587.4 1513.7,587.6 1515.3,578.1 1516.9,588.1 1518.5,580.0 1520.1,576.7 1521.7,583.5 1523.3,569.7 1524.9,576.8 1526.5,593.6 1528.1,590.9 1529.7,589.6 1531.3,573.9 1532.9,568.8 1534.5,592.4 1536.1,582.5 1537.7,579.4 1539.3,578.9 1540.9,580.8 1542.5,581.5 1544.1,579.0 1545.7,589.5 1547.3,580.5 1548.9,583.9 1550.5,581.9 1552.1,581.2 1553.7,593.7 1555.3,580.5 1556.9,579.7 1558.5,586.5 1560.1,573.2 1561.7,576.7 1563.3,575.2 1564.9,572.7 1566.5,579.0 1568.1,581.4 1569.7,580.8 1571.3,581.1 1572.9,581.6 1574.5,581.7 1576.1,590.4 1577.7,582.1 1579.3,580.6 1580.9,581.5 1582.5,583.3 1584.1,582.0 1585.7,576.5 1587.3,583.7 1588.9,581.9 1590.5,579.9 1592.1,577.1 1593.7,582.5 1595.3,572.5 1596.9,582.7 1598.5,580.7 1600.1,586.7 1601.7,588.2 1603.3,579.7 1604.9,577.2 1606.5,581.9 1608.1,589.1 1609.7,580.8 1611.3,572.3 1612.9,581.6 1614.5,577.2 1616.1,577.8 1617.7,583.8 1619.3,575.0 1620.9,577.4 1622.4,580.4 1624.0,577.2 1625.6,579.8 1627.1,575.8 1628.7,573.4 1630.3,566.4 1631.8,578.7 1633.4,567.2 1635.0,577.1 1636.6,585.9 1638.2,576.2 1639.8,579.8 1641.4,574.3 1643.0,576.8 1644.6,578.9 1646.2,571.6 1647.8,576.2 1649.4,574.1 1651.0,576.3 1652.6,576.2 1654.2,577.6 1655.8,575.9 1657.4,575.4 1659.0,578.1 1660.6,572.6 1662.2,566.4 1663.8,578.7 1665.4,573.1 1667.0,587.7 1668.6,577.1 1670.1,572.4 1671.7,577.7 1673.3,575.0 1674.9,581.4 1676.5,565.1 1678.1,576.0 1679.7,577.1 1681.3,586.2 1682.9,574.5 1684.5,579.6 1686.1,578.8 1687.7,576.9 1689.3,581.7 1690.9,580.4 1692.5,579.0 1694.1,575.4 1695.7,576.8 1697.3,578.8 1698.9,581.3 1700.5,576.8 1702.1,576.1 1703.7,575.2 1705.3,577.9 1706.9,567.1 1708.5,584.5 1710.1,576.8 1711.7,581.3 1713.3,577.9 1714.9,577.3 1716.5,572.4 1718.1,577.0 1719.7,576.8 1721.3,575.9 1722.9,579.2 1724.5,575.8 1726.1,570.9 1727.7,578.5 1729.3,578.3 1730.9,578.5 1732.5,571.5 1734.1,577.1 1735.7,577.4 1737.3,575.6 1738.9,585.3 1740.5,577.9 1742.1,576.2 1743.7,574.1 1745.3,571.5 1746.9,577.8 1748.5,575.7 1750.0,574.2 1751.6,585.1 1753.2,572.4 1754.8,576.4 1756.4,575.3 1758.0,577.2 1759.6,567.3 1761.2,572.7 1762.8,573.1 1764.4,573.6 1766.0,575.6 1767.6,572.1 1769.2,581.5 1770.8,581.3 1772.4,582.4 1774.0,568.9 1775.6,577.9 1777.2,572.2 1778.8,574.3 1780.4,578.6 1782.0,569.7 1783.6,570.8 1785.2,571.7 1786.8,575.9 1788.4,573.7 1790.0,573.1 1791.6,572.1 1793.2,573.5 1794.8,576.9 1796.4,569.7 1798.0,569.4 1799.5,573.6 1801.1,570.7 1802.7,573.9 1804.3,571.3 1805.9,575.7 1807.5,570.0 1809.1,574.9 1810.7,579.1 1812.3,575.5 1813.9,570.6 1815.5,568.8 1817.1,572.3 1818.7,568.9 1820.3,569.0 1821.9,567.9 1823.5,571.3 1825.1,570.3 1826.7,569.9 1828.3,575.3 1829.9,561.2 1831.5,580.7 1833.1,569.6 1834.7,567.2 1836.3,571.0 1837.9,570.0 1839.5,572.7 1841.1,569.5 1842.7,561.4 1844.3,570.5 1845.9,570.4 1847.5,569.0 1849.1,568.4 1850.7,577.7 1852.3,568.5 1853.9,565.5 1855.5,570.0 1857.1,568.3 1858.7,566.9 1860.3,569.0 1861.9,568.9 1863.5,576.6 1865.1,567.2 1866.7,569.0 1868.3,568.1 1869.9,569.7 1871.5,568.2 1873.1,568.1 1874.7,568.4 1876.3,568.6 1877.9,561.6 1879.5,563.9 1881.1,570.0 1882.7,570.5 1884.3,563.9 1885.9,568.2 1887.5,568.6 1889.1,570.2 1890.7,573.6 1892.3,571.0 1893.9,568.0 1895.5,570.4 1897.1,568.0 1898.7,569.8 1900.3,568.1 1901.9,566.7 1903.5,576.7 1905.1,567.8 1906.7,566.9 1908.3,570.3 1909.9,568.4 1911.5,567.0 1913.1,569.1 1914.7,566.7 1916.3,565.7 1917.9,566.7 1919.4,565.4 1921.0,570.4 1922.6,566.0 1924.2,568.2 1925.8,568.2 1927.4,566.9 1929.0,567.7 1930.6,571.2 1932.2,571.0 1933.8,566.0 1935.4,566.5 1937.0,566.8 1938.6,568.1 1940.2,564.1 1941.8,562.6 1943.4,567.6 1945.0,558.8 1946.6,554.8 1948.2,574.1 1949.8,563.8 1951.4,566.0 1953.0,568.1 1954.6,565.8 1956.2,566.6 1957.8,567.5 1959.4,567.2 1961.0,567.2 1962.6,570.9 1964.2,558.9 1965.8,570.5 1967.4,568.6 1969.0,560.9 1970.6,565.8 1972.2,559.9 1973.8,564.1 1975.4,567.2 1977.0,565.2 1978.6,566.4 1980.2,564.2 1981.8,565.0 1983.4,564.9 1985.0,561.9 1986.6,574.0 1988.2,574.9 1989.8,557.3 1991.4,568.2 1993.0,570.0 1994.6,565.5 1996.2,570.5" fill="none" stroke="#0000ff" stroke-width="8" stroke-linejoin="round" stroke-linecap="round"/>
<polyline points="313.5,163.5 313.3,163.5 312.5,163.5 311.5,163.4 310.6,163.4 310.4,163.4 311.3,163.3 313.7,163.2 318.0,163.0 324.8,162.8 333.8,162.5 344.5,162.2 356.2,161.8 368.2,161.5 379.9,161.1 390.8,160.8 400.0,160.5 407.8,160.2 414.8,159.9 421.1,159.7 427.0,159.4 432.7,159.2 438.2,158.9 444.0,158.7 450.0,158.5 455.9,158.3 461.3,158.1 466.6,158.0 471.9,157.8 477.6,157.6 484.0,157.5 491.4,157.4 500.0,157.2 510.1,157.0 521.5,156.9 533.8,156.7 546.9,156.5 560.3,156.4 573.8,156.2 587.2,156.1 600.0,156.0 612.5,155.9 625.0,155.8 637.5,155.8 650.0,155.8 662.5,155.7 675.0,155.7 687.5,155.7 700.0,155.7 712.5,155.7 725.0,155.7 737.5,155.7 750.0,155.7 762.5,155.7 775.0,155.8 787.5,155.9 800.0,156.0 812.5,156.2 825.0,156.4 837.5,156.7 850.0,156.9 862.5,157.2 875.0,157.5 887.5,157.8 900.0,158.0 912.8,158.2 926.2,158.4 939.7,158.6 953.1,158.7 966.2,158.9 978.5,159.0 989.9,159.2 1000.0,159.3 1008.8,159.4 1016.7,159.5 1023.7,159.6 1030.0,159.8 1035.6,159.9 1040.8,160.0 1045.5,160.1 1050.0,160.2 1054.0,160.3 1057.3,160.5 1060.1,160.6 1062.5,160.8 1064.6,161.0 1066.4,161.1 1068.2,161.3 1070.0,161.5 1071.7,161.7 1073.2,161.9 1074.5,162.1 1075.6,162.3 1076.7,162.5 1077.7,162.8 1078.8,163.0 1080.0,163.3 1081.2,163.6 1082.5,163.9 1083.8,164.2 1085.0,164.5 1086.2,164.9 1087.5,165.2 1088.8,165.6 1090.0,166.0 1091.2,166.4 1092.5,166.8 1093.7,167.2 1095.0,167.6 1096.2,168.0 1097.5,168.6 1098.7,169.2 1100.0,170.0 1101.3,170.8 1102.5,171.5 1103.7,172.3 1104.9,173.2 1106.2,174.3 1107.6,175.7 1109.1,177.4 1110.7,179.6 1112.6,182.3 1114.6,185.6 1116.9,189.2 1119.2,193.1 1121.5,197.2 1123.7,201.3 1125.8,205.4 1127.7,209.2 1129.4,212.9 1131.0,216.6 1132.4,220.3 1133.8,224.0 1135.1,227.7 1136.4,231.4 1137.6,235.1 1138.8,238.8 1140.0,242.5 1141.1,246.2 1142.2,249.9 1143.2,253.7 1144.3,257.4 1145.3,261.1 1146.2,264.8 1147.2,268.5 1148.2,272.2 1149.1,275.9 1150.0,279.6 1150.9,283.3 1151.8,287.0 1152.6,290.7 1153.5,294.4 1154.3,298.1 1155.1,301.8 1155.9,305.5 1156.6,309.2 1157.4,312.9 1158.1,316.6 1158.8,320.3 1159.6,324.0 1160.3,327.7 1161.1,331.4 1161.8,335.1 1162.6,338.8 1163.3,342.5 1164.1,346.2 1164.8,349.9 1165.5,353.6 1166.2,357.3 1166.8,360.8 1167.3,364.1 1167.8,367.3 1168.3,370.5 1168.8,374.0 1169.3,377.7 1169.9,382.0 1170.6,386.9 1171.4,392.5 1172.3,398.6 1173.3,405.3 1174.4,412.2 1175.4,419.5 1176.5,426.9 1177.5,434.3 1178.5,441.6 1179.5,449.0 1180.4,456.5 1181.4,464.2 1182.3,472.0 1183.2,479.8 1184.2,487.6 1185.0,495.5 1185.9,503.2 1186.7,510.9 1187.5,518.6 1188.3,526.3 1189.0,534.0 1189.7,541.7 1190.4,549.4 1191.2,557.1 1191.9,564.8 1192.7,572.5 1193.4,580.4 1194.2,588.2 1194.9,596.0 1195.7,603.8 1196.4,611.4 1197.1,619.0 1197.8,626.4 1198.4,633.6 1199.0,640.5 1199.6,647.3 1200.1,654.0 1200.7,660.7 1201.2,667.5 1201.8,674.4 1202.4,681.6 1203.0,689.0 1203.7,696.6 1204.4,704.2 1205.0,712.0 1205.7,719.8 1206.4,727.7 1207.1,735.5 1207.8,743.2 1208.5,751.0 1209.2,759.0 1209.9,767.0 1210.7,775.0 1211.4,782.9 1212.1,790.6 1212.8,797.9 1213.5,804.8 1214.2,811.4 1214.9,817.9 1215.5,824.2 1216.2,830.2 1216.8,835.9 1217.4,841.1 1218.0,845.8 1218.5,850.0 1218.9,853.3 1219.3,855.7 1219.6,857.5 1219.9,858.9 1220.1,860.3 1220.4,861.8 1220.8,863.7 1221.2,866.4 1221.7,869.7 1222.2,873.4 1222.8,877.4 1223.4,881.7 1224.1,886.1 1224.7,890.7 1225.4,895.3 1226.0,900.0 1226.6,904.9 1227.3,910.2 1228.0,915.8 1228.7,921.4 1229.4,926.9 1230.1,932.0 1230.7,936.7 1231.3,940.6 1231.8,943.8 1232.4,946.5 1232.8,948.7 1233.3,950.5 1233.7,952.1 1234.2,953.6 1234.6,955.1 1235.0,956.6 1235.4,958.1 1235.7,959.4 1236.0,960.6 1236.3,961.7 1236.6,962.8 1237.0,963.9 1237.5,965.2 1238.0,966.5 1238.7,968.0 1239.4,969.6 1240.2,971.2 1241.1,972.9 1242.0,974.6 1242.9,976.3 1243.8,977.9 1244.7,979.6 1245.6,981.3 1246.5,983.0 1247.4,984.7 1248.4,986.4 1249.3,988.1 1250.3,989.7 1251.2,991.2 1252.2,992.6 1253.2,993.8 1254.1,995.0 1255.0,996.0 1256.0,997.0 1257.0,997.9 1258.0,998.8 1259.0,999.6 1260.0,1000.5 1261.0,1001.3 1262.1,1002.1 1263.1,1002.8 1264.2,1003.5 1265.3,1004.2 1266.5,1005.0 1267.8,1005.9 1269.1,1006.9 1270.5,1008.1 1272.1,1009.4 1273.7,1010.8 1275.4,1012.2 1277.1,1013.7 1278.8,1015.1 1280.5,1016.5 1282.1,1017.7 1283.7,1018.8 1285.3,1019.8 1286.9,1020.8 1288.5,1021.7 1290.1,1022.5 1291.8,1023.3 1293.4,1024.2 1295.0,1025.0 1296.6,1025.8 1298.3,1026.6 1300.0,1027.4 1301.7,1028.2 1303.3,1028.9 1305.0,1029.6 1306.6,1030.3 1308.2,1031.0 1309.6,1031.6 1310.8,1032.1 1311.9,1032.5 1313.1,1032.9 1314.3,1033.4 1315.8,1033.9 1317.7,1034.6 1320.0,1035.4 1322.7,1036.3 1325.8,1037.4 1329.0,1038.5 1332.6,1039.7 1336.5,1041.0 1340.7,1042.4 1345.2,1043.9 1350.0,1045.5 1355.3,1047.2 1361.1,1049.2 1367.3,1051.2 1373.8,1053.3 1380.4,1055.5 1387.0,1057.6 1393.6,1059.7 1400.0,1061.7 1406.2,1063.6 1412.5,1065.5 1418.8,1067.3 1425.0,1069.1 1431.2,1070.9 1437.5,1072.7 1443.8,1074.5 1450.0,1076.4 1456.2,1078.3 1462.5,1080.2 1468.8,1082.2 1475.0,1084.2 1481.2,1086.1 1487.5,1088.1 1493.8,1090.0 1500.0,1092.0 1506.2,1094.0 1512.5,1095.9 1518.8,1097.9 1525.0,1099.9 1531.2,1101.8 1537.5,1103.8 1543.8,1105.6 1550.0,1107.5 1556.3,1109.3 1562.7,1111.2 1569.2,1113.0 1575.6,1114.7 1582.0,1116.5 1588.2,1118.1 1594.2,1119.7 1600.0,1121.2 1605.3,1122.5 1610.2,1123.7 1614.9,1124.8 1619.4,1125.9 1624.0,1126.9 1628.8,1128.0 1634.1,1129.2 1640.0,1130.6 1646.6,1132.2 1653.8,1133.9 1661.5,1135.7 1669.4,1137.6 1677.4,1139.6 1685.2,1141.4 1692.8,1143.2 1700.0,1144.9 1706.7,1146.5 1713.2,1148.0 1719.5,1149.4 1725.6,1150.8 1731.7,1152.2 1737.7,1153.5 1743.8,1154.7 1750.0,1155.9 1756.2,1157.0 1762.5,1158.0 1768.8,1158.9 1775.0,1159.8 1781.2,1160.7 1787.5,1161.5 1793.8,1162.4 1800.0,1163.2 1806.2,1164.0 1812.5,1164.9 1818.8,1165.6 1825.0,1166.4 1831.2,1167.2 1837.5,1168.0 1843.8,1168.8 1850.0,1169.6 1856.2,1170.4 1862.5,1171.3 1868.8,1172.2 1875.0,1173.1 1881.2,1174.0 1887.5,1174.9 1893.8,1175.7 1900.0,1176.4 1906.3,1177.1 1912.6,1177.6 1918.9,1178.2 1925.2,1178.7 1931.5,1179.2 1937.7,1179.6 1943.9,1180.1 1950.0,1180.6 1956.3,1181.1 1963.1,1181.7 1969.9,1182.3 1976.6,1182.8 1982.9,1183.3 1988.6,1183.8 1993.4,1184.2 1997.0,1184.5" fill="none" stroke="#ff0000" stroke-width="8" stroke-linejoin="round" stroke-linecap="round"/>
<polyline points="313.5,553.4 315.1,553.1 316.7,553.1 318.3,552.7 319.9,553.4 321.5,552.9 323.1,553.5 324.7,552.7 326.3,552.5 327.9,552.9 329.5,552.7 331.1,552.4 332.7,553.5 334.3,552.5 335.9,553.0 337.5,552.7 339.1,552.7 340.7,552.7 342.3,552.9 343.9,552.2 345.5,552.5 347.1,552.5 348.7,552.2 350.3,552.0 351.9,552.5 353.5,552.8 355.1,553.0 356.7,552.1 358.3,553.2 359.9,552.1 361.5,552.6 363.1,552.9 364.7,551.3 366.3,552.7 367.9,553.2 369.5,551.7 371.1,552.7 372.7,552.3 374.3,552.0 375.9,551.6 377.5,552.3 379.1,552.4 380.7,551.8 382.3,552.8 383.9,552.0 385.5,552.5 387.1,552.1 388.7,552.3 390.3,552.6 391.9,552.5 393.5,553.0 395.1,553.0 396.7,552.3 398.3,552.4 399.9,552.0 401.5,552.2 403.1,552.7 404.7,553.0 406.3,552.3 407.9,552.5 409.5,551.9 411.1,553.2 412.7,552.8 414.3,552.7 415.9,552.8 417.5,552.9 419.1,552.2 420.7,552.3 422.3,552.7 423.9,552.8 425.5,553.4 427.1,552.6 428.7,553.6 430.3,553.0 431.9,553.1 433.5,553.4 435.1,553.3 436.7,553.5 438.3,553.4 439.9,553.1 441.5,553.8 443.1,552.8 444.7,554.1 446.3,553.4 447.9,553.3 449.5,554.0 451.1,554.2 452.7,553.3 454.3,553.5 455.9,554.2 457.5,553.4 459.1,553.9 460.7,553.5 462.3,553.9 463.9,553.3 465.5,554.5 467.1,553.8 468.7,554.0 470.3,554.3 471.9,554.2 473.5,554.5 475.1,554.7 476.7,554.7 478.3,555.0 479.9,554.0 481.5,554.7 483.1,554.5 484.7,554.4 486.3,555.3 487.9,554.7 489.5,554.7 491.1,555.2 492.7,554.8 494.3,554.6 495.9,553.6 497.5,555.0 499.1,555.0 500.7,555.0 502.3,554.5 503.9,554.6 505.5,554.6 507.1,554.8 508.7,555.0 510.3,555.1 511.9,554.2 513.5,555.6 515.1,554.8 516.7,555.2 518.3,555.5 519.9,555.8 521.5,555.4 523.1,547.6 524.7,554.8 526.3,555.5 527.9,555.1 529.5,555.7 531.1,554.9 532.7,555.3 534.3,555.1 535.9,555.2 537.5,555.3 539.1,555.9 540.7,555.2 542.3,555.1 543.9,555.5 545.5,555.9 547.1,555.4 548.7,556.0 550.3,555.6 551.9,555.2 553.5,555.3 555.1,555.8 556.7,555.4 558.3,555.2 559.9,555.8 561.5,555.2 563.1,555.0 564.7,555.5 566.3,555.6 567.9,555.4 569.5,556.3 571.1,555.8 572.7,555.8 574.3,556.0 575.9,555.6 577.5,555.7 579.1,554.6 580.7,555.7 582.3,554.9 583.9,555.2 585.5,555.3 587.1,556.0 588.7,555.4 590.3,555.7 591.9,555.6 593.5,556.2 595.1,555.9 596.7,556.1 598.3,555.5 599.9,555.2 601.5,555.0 603.1,556.9 604.7,555.8 606.3,555.9 607.9,555.9 609.5,555.8 611.1,555.7 612.7,556.4 614.3,555.2 615.9,554.6 617.5,555.2 619.1,555.6 620.7,555.8 622.3,556.5 623.9,555.5 625.5,555.8 627.1,556.2 628.7,555.7 630.3,555.2 631.9,556.0 633.5,556.2 635.1,556.2 636.7,555.6 638.3,556.3 639.9,555.8 641.5,555.8 643.1,556.2 644.7,556.4 646.3,555.9 647.9,556.4 649.5,555.2 651.1,556.2 652.7,555.6 654.3,555.9 655.9,555.2 657.5,556.0 659.1,556.1 660.7,556.1 662.3,556.7 663.9,555.3 665.5,555.8 667.1,555.3 668.7,556.2 670.3,556.0 671.9,556.0 673.5,556.4 675.1,555.7 676.7,555.9 678.3,555.4 679.9,555.9 681.5,555.4 683.1,555.7 684.7,555.1 686.3,555.8 687.9,556.0 689.5,555.4 691.1,556.4 692.7,556.3 694.3,555.5 695.9,555.8 697.5,555.8 699.1,556.6 700.7,555.8 702.3,556.4 703.9,556.0 705.5,555.3 707.1,556.5 708.7,556.0 710.3,555.7 711.9,556.7 713.5,563.1 715.1,556.0 716.7,556.1 718.3,555.9 719.9,555.8 721.5,555.4 723.1,556.4 724.7,556.0 726.3,555.4 727.9,555.4 729.5,556.1 731.1,555.8 732.7,555.7 734.3,555.3 735.9,556.7 737.5,556.1 739.1,555.8 740.7,556.2 742.3,556.6 743.9,556.0 745.5,556.4 747.1,555.9 748.7,556.0 750.3,556.4 751.9,556.6 753.5,556.6 755.1,556.2 756.7,556.3 758.3,556.2 759.9,556.0 761.5,555.6 763.1,556.4 764.7,556.0 766.3,556.5 767.9,556.2 769.5,555.7 771.1,556.1 772.7,556.4 774.3,556.1 775.9,556.5 777.5,556.6 779.1,556.8 780.7,556.3 782.3,556.6 783.9,556.7 785.5,556.6 787.1,556.1 788.7,556.4 790.3,556.0 791.9,556.2 793.5,548.3 795.1,556.4 796.7,556.2 798.3,556.1 799.9,556.8 801.5,556.3 803.1,556.8 804.7,556.3 806.3,556.0 807.9,555.6 809.5,556.4 811.1,556.0 812.7,556.6 814.3,556.5 815.9,556.6 817.5,556.8 819.1,555.8 820.7,556.4 822.3,556.5 823.9,556.3 825.5,556.3 827.1,557.2 828.7,556.5 830.3,556.6 831.9,556.6 833.5,556.4 835.1,556.6 836.7,556.7 838.3,557.1 839.9,556.6 841.5,556.3 843.1,556.6 844.7,556.5 846.3,556.5 847.9,556.6 849.5,556.2 851.1,556.3 852.7,548.9 854.3,556.1 855.9,557.1 857.5,557.3 859.1,556.9 860.7,556.8 862.3,556.1 863.9,556.1 865.5,556.9 867.1,556.8 868.7,557.4 870.3,555.9 871.9,555.9 873.5,556.5 875.1,557.1 876.7,556.2 878.3,557.2 879.9,557.1 881.5,557.5 883.1,557.2 884.7,557.0 886.3,557.4 887.9,557.0 889.5,557.6 891.1,557.0 892.7,555.8 894.3,556.8 895.9,556.1 897.5,557.4 899.1,557.0 900.7,556.6 902.3,556.0 903.9,556.8 905.5,557.1 907.1,556.9 908.7,557.0 910.3,556.7 911.9,557.4 913.5,556.7 915.1,556.8 916.7,557.0 918.3,557.0 919.9,557.2 921.5,557.1 923.1,557.5 924.7,556.3 926.3,556.6 927.9,556.6 929.5,556.3 931.1,557.1 932.7,556.6 934.3,556.1 935.9,556.9 937.5,557.2 939.1,556.3 940.7,556.6 942.3,557.0 943.9,556.9 945.5,557.1 947.1,556.9 948.7,556.3 950.3,556.8 951.9,556.9 953.5,557.2 955.1,556.8 956.7,556.4 958.3,557.0 959.9,556.7 961.5,557.3 963.1,557.3 964.7,556.7 966.3,556.6 967.9,555.9 969.5,557.1 971.1,556.7 972.7,557.4 974.3,556.6 975.9,557.2 977.5,556.4 979.1,556.1 980.7,557.0 982.3,556.6 983.9,557.0 985.5,555.7 987.1,556.6 988.7,557.1 990.3,557.0 991.9,556.9 993.5,557.4 995.1,557.1 996.7,557.4 998.3,557.4 999.9,556.8 1001.5,556.5 1003.1,556.6 1004.7,557.5 1006.3,557.1 1007.9,557.7 1009.5,556.9 1011.1,556.4 1012.7,557.1 1014.3,557.6 1015.9,557.3 1017.5,557.0 1019.1,557.3 1020.7,557.7 1022.2,558.4 1023.8,558.0 1025.4,557.9 1027.0,558.3 1028.6,558.2 1030.2,557.8 1031.8,558.2 1033.4,558.0 1035.0,558.5 1036.6,558.5 1038.2,558.9 1039.8,558.1 1041.4,558.3 1043.0,558.3 1044.6,558.3 1046.2,558.2 1047.8,558.7 1049.4,558.7 1051.0,558.9 1052.6,558.7 1054.2,558.7 1055.8,559.2 1057.4,559.1 1059.0,558.5 1060.6,559.3 1062.2,559.1 1063.7,560.1 1065.3,559.7 1066.8,560.4 1068.2,561.9 1069.7,561.7 1071.2,561.6 1072.6,564.1 1073.9,563.5 1075.2,565.5 1076.5,566.4 1077.9,567.6 1079.2,567.9 1080.4,569.6 1081.7,570.1 1083.0,571.5 1084.2,571.7 1085.4,573.7 1086.5,573.8 1087.6,574.7 1088.6,577.0 1089.6,577.6 1090.5,579.0 1091.5,580.9 1092.4,581.6 1093.3,583.6 1094.1,583.9 1095.0,585.9 1095.9,587.3 1096.7,587.9 1097.6,589.4 1098.4,591.9 1099.2,593.1 1099.8,594.0 1100.4,595.7 1101.0,597.1 1101.5,598.7 1102.0,599.5 1102.5,600.6 1103.0,603.2 1103.5,604.9 1103.9,606.4 1104.4,606.7 1104.8,609.3 1105.2,610.3 1105.6,612.4 1106.0,614.4 1106.4,615.6 1106.8,616.5 1107.2,618.5 1107.5,619.3 1107.8,621.6 1108.1,622.8 1108.5,625.0 1108.7,626.5 1109.0,627.6 1109.3,629.1 1109.6,630.0 1109.8,631.4 1110.1,634.4 1110.3,636.3 1110.6,637.5 1110.9,638.1 1111.1,639.9 1111.4,642.6 1111.7,643.2 1112.0,645.5 1112.3,646.9 1112.7,648.0 1113.0,649.9 1113.4,650.5 1113.8,652.9 1114.4,653.7 1114.9,656.0 1115.5,657.4 1116.1,659.8 1116.8,660.9 1117.5,662.1 1118.3,663.4 1119.1,664.6 1119.9,665.9 1120.7,667.3 1121.4,668.1 1122.2,669.7 1122.9,671.1 1123.7,673.1 1124.5,674.8 1125.4,675.3 1126.2,677.2 1127.0,679.0 1127.7,680.4 1128.2,681.7 1128.7,683.3 1129.1,684.7 1129.4,686.1 1129.6,687.7 1129.8,688.0 1130.0,689.9 1130.1,692.8 1130.2,694.9 1130.2,696.1 1130.3,697.9 1130.3,700.2 1130.3,700.5 1130.4,701.8 1130.4,703.3 1130.4,705.4 1130.5,707.5 1130.5,710.1 1130.6,710.0 1130.7,711.5 1130.8,713.3 1131.0,714.0 1131.1,716.8 1131.3,717.7 1131.5,719.7 1131.8,721.7 1132.1,722.9 1132.3,724.1 1132.7,725.7 1133.0,727.8 1133.4,728.6 1133.7,730.7 1134.1,732.4 1134.5,733.5 1134.8,735.7 1135.2,736.5 1135.7,737.6 1136.1,740.1 1136.5,741.5 1136.9,742.8 1137.3,744.8 1137.8,747.2 1138.2,748.1 1138.6,748.9 1139.0,751.4 1139.5,752.1 1139.9,753.9 1140.4,755.2 1140.9,757.3 1141.5,758.7 1142.1,760.2 1142.7,762.0 1143.3,762.7 1143.9,764.1 1144.4,765.9 1144.9,766.9 1145.4,768.4 1145.8,771.3 1146.3,772.5 1146.6,773.3 1147.0,774.7 1147.3,776.4 1147.6,777.8 1147.9,780.7 1148.2,781.9 1148.5,782.6 1148.7,784.2 1149.0,786.0 1149.2,786.8 1149.5,788.4 1149.7,791.2 1149.9,792.5 1150.1,793.0 1150.4,796.2 1150.6,797.0 1150.8,798.3 1151.0,801.1 1151.2,801.7 1151.4,802.9 1151.6,805.5 1151.8,806.7 1152.0,807.5 1152.2,809.9 1152.4,810.3 1152.6,813.4 1152.8,814.3 1153.0,816.5 1153.2,818.0 1153.4,819.3 1153.6,821.3 1153.8,822.8 1154.0,823.0 1154.2,825.2 1154.4,826.9 1154.6,829.1 1154.8,831.0 1155.0,832.4 1155.2,833.2 1155.4,834.6 1155.6,837.1 1155.8,839.7 1156.0,840.8 1156.2,841.4 1156.4,843.4 1156.6,844.6 1156.8,846.7 1157.0,848.0 1157.3,850.3 1157.5,851.9 1157.7,852.2 1157.9,855.0 1158.2,855.8 1158.4,858.1 1158.6,859.3 1158.9,859.7 1159.1,861.2 1159.3,863.7 1159.6,866.0 1159.8,866.5 1160.1,868.2 1160.3,870.0 1160.6,871.7 1160.8,872.5 1161.1,875.6 1161.3,875.9 1161.6,878.2 1161.9,879.5 1162.1,880.7 1162.4,882.8 1162.6,884.1 1162.9,885.2 1163.1,887.1 1163.4,888.8 1163.7,890.8 1163.9,892.2 1164.2,893.5 1164.4,895.7 1164.7,896.6 1164.9,898.5 1165.2,899.7 1165.4,901.1 1165.7,903.5 1165.9,904.6 1166.2,907.2 1166.4,908.1 1166.7,910.2 1166.9,911.0 1167.2,913.2 1167.4,914.8 1167.6,916.5 1167.9,916.6 1168.1,918.0 1168.3,920.7 1168.5,922.0 1168.8,923.6 1169.0,926.3 1169.2,927.2 1169.4,928.4 1169.6,930.2 1169.8,931.6 1170.0,933.3 1170.2,934.4 1170.4,935.9 1170.6,938.1 1170.8,940.5 1171.0,941.4 1171.2,942.3 1171.4,944.0 1171.6,945.9 1171.8,947.0 1172.0,948.8 1172.2,951.4 1172.4,952.4 1172.5,953.5 1172.7,954.9 1172.9,956.3 1173.1,959.3 1173.2,960.8 1173.4,961.6 1173.6,963.7 1173.8,965.3 1173.9,966.5 1174.1,968.1 1174.3,969.6 1174.5,970.7 1174.6,973.1 1174.8,974.2 1175.0,975.4 1175.1,978.0 1175.3,980.6 1175.5,981.6 1175.6,983.4 1175.8,983.9 1175.9,986.0 1176.1,987.0 1176.3,988.1 1176.4,991.5 1176.6,991.5 1176.7,993.8 1176.9,994.9 1177.1,996.9 1177.2,998.9 1177.4,999.1 1177.5,1001.0 1177.7,1002.7 1177.8,1004.8 1178.0,1006.4 1178.1,1008.6 1178.3,1009.3 1178.4,1011.0 1178.6,1013.4 1178.7,1014.7 1178.8,1016.5 1179.0,1017.5 1179.1,1019.1 1179.3,1020.4 1179.4,1022.2 1179.6,1024.6 1179.7,1026.0 1179.8,1026.8 1180.0,1028.9 1180.1,1030.9 1180.2,1032.2 1180.4,1033.9 1180.5,1036.2 1180.6,1035.8 1180.8,1038.7 1180.9,1039.9 1181.0,1040.9 1181.1,1043.8 1181.3,1044.0 1181.4,1045.7 1181.5,1047.8 1181.7,1050.2 1181.8,1051.3 1181.9,1052.5 1182.0,1055.4 1182.2,1055.8 1182.3,1058.1 1182.4,1060.0 1182.5,1060.9 1182.6,1062.7 1182.8,1064.2 1182.9,1066.2 1183.0,1066.5 1183.1,1068.7 1183.2,1070.3 1183.3,1072.0 1183.5,1073.3 1183.6,1074.6 1183.7,1076.1 1183.8,1077.8 1183.9,1079.6 1184.0,1081.5 1184.1,1083.1 1184.2,1084.3 1184.3,1086.1 1184.4,1088.6 1184.5,1090.3 1184.6,1091.7 1184.7,1092.7 1184.8,1093.5 1184.9,1094.6 1184.9,1097.4 1185.0,1098.9 1185.1,1101.3 1185.2,1102.0 1185.3,1103.6 1185.4,1105.8 1185.4,1107.4 1185.5,1108.4 1185.6,1110.3 1185.7,1111.0 1185.8,1112.8 1185.9,1115.0 1185.9,1117.2 1186.0,1118.1 1186.1,1119.8 1186.2,1122.0 1186.3,1123.5 1186.4,1125.0 1186.5,1126.7 1186.6,1128.2 1186.7,1128.6 1186.8,1131.2 1186.9,1132.3 1187.0,1134.1 1187.2,1135.8 1187.3,1137.4 1187.5,1138.9 1187.7,1139.8 1187.9,1141.9 1188.1,1143.2 1188.3,1145.4 1188.4,1146.5 1188.6,1147.3 1188.7,1150.3 1188.8,1151.3 1188.9,1153.3 1189.0,1155.0 1189.1,1156.6 1189.2,1157.6 1189.3,1159.2 1189.4,1161.4 1189.5,1163.3 1189.6,1164.8 1189.7,1166.5 1189.8,1167.6 1189.9,1169.4 1190.0,1170.7 1190.1,1171.8 1190.2,1174.2 1190.3,1176.6 1190.4,1177.6 1190.6,1178.4 1190.7,1180.2 1190.8,1182.3 1190.9,1183.6 1191.1,1185.3 1191.2,1186.7 1191.3,1188.6 1191.4,1190.2 1191.6,1191.8 1191.7,1192.5 1191.9,1195.4 1192.0,1196.0 1192.2,1197.4 1192.3,1199.7 1192.4,1201.2 1192.6,1202.3 1192.8,1204.0 1192.9,1206.0 1193.1,1207.5 1193.2,1208.7 1193.4,1210.8 1193.6,1212.5 1193.8,1213.6 1194.0,1215.4 1194.2,1217.3 1194.4,1218.6 1194.6,1219.8 1194.8,1222.1 1195.0,1223.2 1195.3,1226.1 1195.5,1226.1 1195.7,1228.8 1196.0,1230.2 1196.2,1231.0 1196.4,1233.4 1196.6,1234.5 1196.7,1236.3 1196.9,1237.5 1197.1,1239.7 1197.2,1240.3 1197.4,1242.2 1197.5,1243.8 1197.7,1245.7 1197.8,1247.7 1197.9,1249.0 1198.1,1250.1 1198.2,1251.7 1198.4,1253.6 1198.5,1254.8 1198.7,1256.5 1198.8,1257.9 1198.9,1259.6 1199.0,1261.6 1199.2,1263.0 1199.3,1265.6 1199.6,1266.6 1200.2,1267.8 1200.8,1266.3 1201.1,1264.8 1201.5,1262.4 1201.8,1261.8 1202.1,1258.7 1202.4,1258.0 1202.7,1255.8 1203.0,1255.7 1203.4,1253.3 1203.7,1250.9 1204.0,1250.1 1204.3,1248.5 1204.7,1246.4 1205.0,1246.2 1205.3,1244.5 1205.6,1241.5 1205.9,1241.4 1206.2,1239.3 1206.5,1238.5 1206.8,1236.1 1207.1,1234.3 1207.4,1233.5 1207.6,1230.9 1207.9,1229.4 1208.2,1228.1 1208.5,1226.1 1208.8,1224.6 1209.1,1223.3 1209.3,1221.9 1209.6,1221.1 1209.9,1219.1 1210.1,1217.5 1210.3,1216.0 1210.5,1214.1 1210.7,1212.9 1210.9,1211.0 1211.0,1209.7 1211.2,1207.9 1211.3,1205.2 1211.5,1203.7 1211.6,1202.8 1211.7,1201.2 1211.8,1200.0 1211.9,1199.0 1212.0,1196.2 1212.1,1193.9 1212.3,1192.2 1212.4,1192.2 1212.5,1189.8 1212.6,1187.5 1212.7,1187.0 1212.8,1186.0 1212.9,1185.0 1213.0,1181.5 1213.1,1180.6 1213.3,1178.9 1213.4,1177.3 1213.5,1175.8 1213.7,1173.8 1213.8,1171.7 1213.9,1171.1 1214.1,1168.9 1214.2,1167.2 1214.3,1165.6 1214.5,1165.0 1214.6,1162.8 1214.8,1161.0 1214.9,1159.4 1215.0,1157.7 1215.2,1156.2 1215.3,1154.9 1215.4,1152.8 1215.6,1151.3 1215.7,1150.2 1215.8,1148.0 1216.0,1147.3 1216.1,1145.3 1216.2,1142.8 1216.4,1142.3 1216.5,1140.0 1216.7,1138.5 1216.8,1137.0 1216.9,1136.4 1217.0,1134.4 1217.1,1132.5 1217.1,1130.8 1217.2,1128.8 1217.3,1128.4 1217.4,1125.4 1217.5,1124.5 1217.5,1122.3 1217.6,1122.0 1217.7,1119.6 1217.8,1117.2 1217.8,1116.5 1217.9,1114.5 1218.0,1113.0 1218.0,1111.9 1218.1,1108.9 1218.2,1108.6 1218.2,1106.8 1218.3,1105.8 1218.4,1104.1 1218.4,1102.5 1218.5,1100.6 1218.6,1099.1 1218.6,1097.9 1218.7,1095.8 1218.8,1094.8 1218.8,1093.1 1218.9,1091.3 1218.9,1088.8 1219.0,1087.5 1219.1,1085.1 1219.1,1085.7 1219.2,1083.2 1219.2,1081.1 1219.3,1079.9 1219.4,1078.6 1219.4,1075.5 1219.5,1075.6 1219.5,1073.3 1219.6,1071.7 1219.6,1069.8 1219.7,1067.7 1219.7,1067.3 1219.8,1065.1 1219.8,1064.2 1219.9,1062.2 1220.0,1060.5 1220.0,1059.4 1220.1,1056.7 1220.1,1055.0 1220.2,1054.8 1220.2,1052.8 1220.3,1050.3 1220.3,1048.6 1220.4,1047.8 1220.4,1046.2 1220.5,1044.5 1220.5,1043.3 1220.6,1041.5 1220.6,1039.7 1220.7,1037.2 1220.7,1035.7 1220.8,1034.5 1220.8,1034.0 1220.9,1032.3 1220.9,1030.5 1221.0,1028.2 1221.0,1026.9 1221.1,1026.0 1221.2,1023.1 1221.2,1022.1 1221.3,1020.5 1221.4,1018.8 1221.5,1017.8 1221.5,1015.2 1221.6,1013.8 1221.7,1012.6 1221.8,1011.0 1221.9,1009.1 1222.0,1008.4 1222.1,1005.6 1222.2,1005.0 1222.3,1003.3 1222.5,1001.8 1222.6,999.9 1222.7,998.3 1222.8,996.8 1222.9,994.4 1223.0,993.7 1223.1,992.0 1223.2,989.9 1223.3,988.7 1223.4,986.8 1223.4,986.1 1223.5,983.9 1223.6,982.6 1223.6,980.7 1223.7,978.6 1223.8,977.7 1223.8,976.4 1223.9,974.3 1223.9,972.9 1224.0,972.4 1224.0,969.8 1224.1,968.1 1224.1,965.9 1224.2,964.8 1224.2,962.6 1224.3,961.0 1224.4,960.2 1224.4,957.9 1224.5,956.8 1224.6,954.1 1224.6,952.9 1224.7,952.3 1224.8,950.6 1224.8,948.6 1224.9,947.6 1225.0,945.8 1225.0,944.0 1225.1,943.0 1225.2,940.9 1225.2,938.5 1225.3,937.2 1225.4,936.4 1225.4,934.1 1225.5,932.9 1225.6,930.7 1225.7,928.4 1225.7,928.2 1225.8,926.2 1225.9,924.2 1225.9,922.7 1226.0,921.5 1226.1,919.8 1226.1,919.0 1226.2,916.2 1226.3,914.6 1226.4,914.0 1226.4,911.9 1226.5,909.8 1226.6,909.0 1226.7,906.8 1226.7,905.7 1226.8,904.4 1226.9,902.7 1227.0,900.8 1227.0,899.8 1227.1,897.7 1227.2,896.1 1227.3,894.5 1227.4,892.0 1227.4,891.5 1227.5,889.2 1227.6,887.9 1227.7,886.4 1227.8,885.0 1227.8,882.8 1227.9,882.7 1228.0,879.9 1228.1,878.5 1228.2,876.8 1228.3,875.0 1228.4,874.3 1228.4,872.4 1228.5,871.2 1228.6,868.7 1228.7,866.2 1228.8,864.7 1228.9,864.1 1229.0,861.8 1229.1,861.7 1229.2,858.8 1229.3,857.6 1229.3,855.3 1229.4,854.7 1229.5,853.1 1229.6,850.6 1229.7,848.7 1229.8,846.9 1229.9,847.4 1230.0,845.2 1230.1,843.6 1230.2,841.8 1230.3,839.9 1230.4,838.1 1230.5,835.9 1230.6,836.2 1230.7,833.6 1230.8,832.1 1230.9,830.8 1231.0,829.6 1231.1,827.1 1231.2,825.7 1231.4,824.2 1231.5,821.9 1231.6,821.2 1231.7,819.3 1231.8,817.9 1231.9,816.5 1232.0,814.5 1232.1,813.4 1232.2,811.1 1232.4,810.8 1232.5,808.9 1232.6,806.1 1232.7,805.2 1232.8,802.6 1232.9,802.1 1233.1,799.8 1233.2,798.5 1233.3,797.0 1233.4,796.1 1233.5,794.0 1233.7,792.7 1233.8,790.6 1233.9,789.7 1234.1,787.3 1234.2,786.3 1234.3,783.5 1234.5,782.9 1234.6,781.3 1234.7,778.7 1234.9,777.4 1235.0,775.7 1235.1,774.3 1235.2,772.4 1235.4,770.7 1235.5,771.3 1235.6,768.2 1235.7,766.6 1235.9,764.9 1236.0,762.9 1236.1,762.1 1236.2,759.9 1236.3,760.1 1236.4,756.9 1236.6,756.3 1236.7,754.3 1236.8,753.0 1236.9,750.3 1237.0,749.3 1237.0,747.5 1237.1,745.2 1237.2,744.5 1237.3,742.8 1237.4,741.0 1237.5,739.3 1237.5,738.1 1237.6,735.7 1237.7,734.7 1237.7,732.9 1237.8,731.8 1237.8,730.6 1237.9,727.9 1237.9,725.9 1238.0,725.5 1238.0,723.7 1238.0,722.9 1238.1,719.7 1238.1,718.6 1238.1,717.4 1238.2,715.3 1238.2,714.0 1238.3,712.7 1238.3,710.8 1238.3,710.0 1238.3,707.5 1238.4,706.3 1238.4,703.6 1238.4,702.5 1238.5,700.8 1238.5,699.6 1238.5,697.3 1238.6,697.0 1238.6,695.2 1238.6,694.1 1238.7,690.5 1238.7,690.0 1238.8,687.1 1238.8,686.8 1238.9,685.1 1238.9,683.8 1239.0,681.8 1239.1,679.7 1239.2,678.6 1239.2,676.2 1239.3,675.5 1239.4,673.7 1239.6,671.6 1239.8,671.1 1240.4,669.2 1241.1,668.3 1242.2,666.3 1243.6,666.0 1245.2,666.1 1246.5,665.6 1247.2,662.3 1247.6,661.8 1247.7,659.5 1247.8,658.9 1247.9,656.6 1248.0,655.4 1248.2,654.0 1248.4,651.7 1248.6,650.4 1248.9,649.0 1249.2,647.6 1249.5,646.0 1249.8,644.9 1250.0,646.4 1250.3,644.6 1250.6,637.5 1250.9,641.7 1251.2,640.2 1251.5,643.0 1251.8,632.7 1252.1,629.7 1252.4,629.6 1252.8,632.9 1253.1,625.6 1253.4,621.6 1253.8,625.8 1254.1,621.2 1254.5,622.1 1254.9,617.5 1255.3,623.2 1255.8,614.8 1256.3,615.9 1256.9,610.0 1257.5,610.2 1258.2,609.7 1259.0,610.3 1259.7,606.6 1260.5,608.4 1261.1,603.7 1261.8,599.9 1262.5,597.7 1263.3,599.1 1264.3,599.7 1265.4,598.1 1266.6,597.5 1267.9,602.4 1269.2,596.7 1270.6,592.5 1272.1,594.5 1273.5,594.1 1275.0,593.7 1276.4,591.0 1277.9,592.3 1279.3,589.7 1280.8,590.4 1282.3,589.3 1283.7,588.6 1285.1,591.1 1286.5,584.9 1287.9,583.3 1289.3,580.6 1290.7,586.5 1292.1,583.5 1293.4,582.7 1294.8,583.0 1296.2,574.3 1297.6,579.5 1299.0,581.3 1300.5,578.3 1302.0,582.1 1303.5,575.0 1305.0,580.4 1306.6,585.4 1308.1,580.0 1309.7,575.1 1311.3,574.4 1312.9,572.7 1314.5,566.9 1316.1,578.3 1317.7,583.8 1319.3,578.0 1320.9,577.0 1322.5,581.1 1324.1,577.0 1325.7,575.7 1327.3,575.0 1328.9,575.2 1330.5,571.0 1332.1,575.1 1333.7,577.0 1335.3,572.9 1336.9,579.4 1338.5,575.6 1340.1,585.8 1341.7,579.5 1343.3,573.4 1344.9,572.9 1346.5,575.9 1348.1,576.4 1349.7,572.6 1351.3,574.3 1352.9,571.1 1354.5,569.1 1356.1,583.4 1357.7,575.6 1359.3,576.7 1360.9,573.0 1362.5,575.6 1364.1,577.3 1365.7,581.3 1367.3,575.8 1368.9,581.8 1370.5,568.6 1372.1,582.2 1373.7,573.4 1375.3,575.8 1376.9,579.7 1378.5,568.9 1380.1,574.9 1381.7,568.0 1383.3,564.8 1384.9,582.6 1386.5,572.1 1388.1,569.7 1389.7,566.6 1391.3,582.2 1392.9,578.6 1394.5,576.2 1396.1,583.5 1397.7,565.8 1399.3,574.7 1400.9,575.1 1402.5,582.5 1404.1,574.4 1405.7,579.8 1407.3,575.5 1408.9,577.9 1410.5,577.0 1412.1,572.4 1413.7,564.8 1415.3,574.3 1416.9,574.9 1418.5,579.0 1420.1,576.2 1421.7,572.8 1423.3,576.5 1424.9,575.5 1426.5,572.6 1428.1,577.3 1429.7,573.5 1431.3,579.2 1432.9,574.6 1434.5,580.7 1436.1,563.7 1437.7,573.2 1439.3,574.0 1440.9,573.0 1442.5,584.6 1444.1,575.7 1445.7,573.6 1447.3,569.4 1448.9,572.4 1450.5,582.1 1452.1,572.3 1453.7,583.9 1455.3,561.0 1456.9,575.6 1458.5,578.8 1460.1,582.9 1461.7,574.5 1463.3,574.1 1464.9,573.8 1466.5,571.8 1468.1,573.6 1469.7,570.3 1471.3,578.2 1472.9,568.3 1474.5,578.6 1476.1,574.0 1477.7,583.7 1479.3,572.2 1480.9,565.5 1482.5,586.5 1484.1,574.5 1485.7,575.1 1487.3,572.8 1488.9,571.5 1490.5,574.8 1492.1,575.0 1493.7,571.2 1495.3,575.0 1496.9,573.6 1498.5,565.4 1500.1,576.9 1501.7,572.7 1503.3,573.2 1504.9,572.7 1506.5,569.8 1508.1,567.9 1509.7,576.7 1511.3,575.1 1512.9,584.4 1514.5,574.2 1516.1,576.8 1517.7,575.7 1519.3,576.9 1520.9,570.0 1522.5,571.2 1524.1,572.1 1525.7,571.7 1527.3,575.4 1528.9,572.9 1530.5,571.7 1532.1,571.8 1533.7,575.5 1535.3,582.5 1536.9,571.2 1538.5,571.5 1540.1,573.5 1541.7,574.0 1543.3,558.3 1544.9,583.0 1546.5,573.7 1548.1,582.3 1549.7,572.2 1551.3,567.6 1552.9,573.4 1554.5,564.5 1556.1,581.8 1557.7,573.3 1559.3,573.8 1560.9,582.0 1562.5,584.2 1564.1,559.7 1565.7,570.9 1567.3,567.8 1568.9,563.1 1570.5,585.4 1572.1,574.2 1573.7,571.3 1575.3,579.1 1576.9,580.2 1578.5,582.9 1580.1,572.9 1581.7,571.7 1583.2,562.6 1584.8,575.9 1586.4,573.1 1588.0,582.5 1589.6,559.0 1591.2,574.7 1592.8,570.3 1594.4,578.7 1596.0,577.0 1597.6,560.7 1599.2,585.6 1600.8,562.5 1602.4,568.6 1604.0,575.5 1605.6,572.9 1607.2,571.3 1608.8,568.5 1610.4,575.3 1612.0,570.9 1613.6,580.4 1615.2,583.6 1616.8,569.8 1618.4,571.7 1620.0,569.7 1621.6,561.4 1623.2,570.9 1624.8,566.7 1626.4,571.9 1628.0,573.2 1629.6,573.2 1631.2,580.8 1632.8,565.4 1634.4,576.3 1636.0,575.9 1637.6,559.8 1639.2,570.2 1640.8,572.7 1642.4,570.9 1644.0,569.9 1645.6,569.8 1647.2,573.3 1648.8,567.4 1650.4,572.8 1652.0,572.8 1653.6,558.5 1655.2,583.2 1656.8,561.8 1658.4,571.2 1660.0,580.0 1661.6,582.8 1663.2,566.8 1664.8,571.4 1666.4,557.4 1668.0,567.8 1669.6,570.4 1671.2,568.6 1672.8,576.5 1674.4,570.4 1676.0,573.6 1677.6,567.4 1679.2,579.0 1680.8,567.8 1682.4,570.0 1684.0,577.3 1685.6,569.1 1687.2,578.6 1688.8,568.4 1690.4,577.9 1692.0,569.4 1693.6,561.8 1695.2,568.1 1696.8,569.0 1698.4,566.8 1700.0,569.9 1701.6,567.4 1703.2,568.1 1704.8,580.3 1706.4,575.6 1708.0,568.4 1709.6,575.6 1711.1,572.1 1712.7,566.6 1714.3,566.9 1715.9,574.8 1717.5,564.5 1719.1,568.1 1720.7,572.3 1722.3,569.9 1723.9,570.1 1725.5,567.5 1727.1,567.7 1728.7,568.2 1730.3,568.5 1731.9,561.8 1733.5,562.7 1735.1,562.8 1736.7,558.2 1738.3,566.9 1739.9,560.1 1741.5,564.1 1743.1,568.4 1744.7,559.0 1746.3,565.3 1747.9,559.7 1749.5,565.8 1751.1,556.9 1752.7,559.5 1754.3,566.1 1755.9,568.5 1757.5,567.5 1759.1,565.9 1760.7,561.2 1762.3,569.5 1763.9,565.7 1765.5,573.4 1767.1,569.9 1768.7,555.8 1770.3,561.7 1771.9,569.3 1773.5,570.0 1775.1,576.1 1776.7,554.8 1778.3,565.4 1779.9,557.7 1781.5,567.3 1783.1,565.9 1784.7,555.7 1786.3,577.0 1787.9,567.5 1789.5,563.9 1791.1,566.4 1792.7,562.0 1794.3,577.7 1795.9,568.7 1797.5,563.8 1799.1,573.7 1800.7,569.1 1802.3,566.4 1803.9,567.2 1805.5,566.4 1807.1,574.9 1808.7,564.3 1810.3,567.0 1811.9,556.6 1813.5,575.1 1815.1,574.0 1816.7,565.4 1818.3,574.2 1819.9,563.4 1821.5,561.1 1823.1,569.6 1824.7,570.9 1826.3,566.3 1827.9,561.7 1829.5,569.7 1831.1,563.7 1832.7,562.0 1834.3,569.9 1835.9,564.0 1837.5,565.0 1839.1,574.6 1840.7,566.1 1842.3,563.5 1843.9,563.4 1845.5,574.7 1847.1,561.8 1848.7,559.0 1850.3,560.8 1851.9,557.8 1853.5,564.4 1855.1,560.6 1856.7,565.8 1858.3,566.1 1859.9,565.6 1861.5,562.5 1863.1,563.1 1864.7,560.6 1866.3,564.6 1867.9,566.8 1869.5,573.2 1871.1,574.0 1872.7,553.1 1874.3,562.4 1875.9,568.4 1877.5,563.5 1879.1,564.2 1880.7,565.2 1882.3,567.1 1883.9,563.7 1885.5,564.5 1887.1,555.5 1888.7,559.1 1890.3,566.9 1891.9,556.5 1893.5,565.2 1895.1,572.1 1896.7,564.0 1898.3,560.7 1899.9,564.0 1901.5,563.3 1903.1,562.8 1904.7,569.5 1906.3,559.0 1907.9,566.0 1909.5,561.3 1911.1,560.7 1912.7,557.8 1914.3,560.4 1915.9,562.5 1917.5,550.1 1919.1,561.1 1920.7,562.6 1922.3,561.0 1923.9,562.3 1925.5,557.3 1927.1,568.2 1928.7,564.5 1930.3,563.9 1931.9,556.7 1933.5,569.9 1935.1,564.8 1936.7,571.4 1938.3,560.7 1939.9,552.5 1941.5,564.4 1943.1,553.0 1944.7,559.4 1946.3,565.7 1947.9,562.6 1949.5,551.7 1951.1,558.9 1952.7,559.3 1954.3,563.4 1955.9,567.1 1957.5,567.8 1959.1,563.1 1960.7,563.6 1962.3,550.4 1963.9,561.9 1965.5,558.0 1967.1,561.5 1968.7,562.0 1970.3,558.6 1971.9,566.6 1973.5,558.1 1975.1,569.4 1976.7,561.9 1978.3,562.6 1979.9,563.8 1981.5,563.3 1983.1,563.4 1984.7,563.6 1986.3,556.8 1987.9,563.7 1989.5,567.2 1991.1,562.2 1992.7,558.5 1994.3,560.2 1995.9,549.7" fill="none" stroke="#ff0000" stroke-width="8" stroke-linejoin="round" stroke-linecap="round"/>
</g>
<line x1="313.50" y1="35.50" x2="1995.00" y2="35.50" stroke="#000" stroke-width="11" stroke-linecap="butt"/>
<line x1="313.50" y1="1422.00" x2="1995.00" y2="1422.00" stroke="#000" stroke-width="11.8" stroke-linecap="butt"/>
<line x1="313.50" y1="30.00" x2="313.50" y2="1422.00" stroke="#000" stroke-width="11" stroke-linecap="butt"/>
<line x1="1995.00" y1="30.00" x2="1995.00" y2="1422.00" stroke="#000" stroke-width="10" stroke-linecap="butt"/>
<line x1="309.50" y1="1422.00" x2="302.50" y2="1422.00" stroke="#000" stroke-width="11.2" stroke-linecap="round"/>
<line x1="1999.00" y1="1422.00" x2="2006.50" y2="1422.00" stroke="#000" stroke-width="11.2" stroke-linecap="round"/>
<line x1="309.50" y1="1283.35" x2="289.30" y2="1283.35" stroke="#000" stroke-width="11.2" stroke-linecap="round"/>
<line x1="1999.00" y1="1283.35" x2="2018.30" y2="1283.35" stroke="#000" stroke-width="11.2" stroke-linecap="round"/>
<line x1="309.50" y1="1144.70" x2="302.50" y2="1144.70" stroke="#000" stroke-width="11.2" stroke-linecap="round"/>
<line x1="1999.00" y1="1144.70" x2="2006.50" y2="1144.70" stroke="#000" stroke-width="11.2" stroke-linecap="round"/>
<line x1="309.50" y1="1006.05" x2="289.30" y2="1006.05" stroke="#000" stroke-width="11.2" stroke-linecap="round"/>
<line x1="1999.00" y1="1006.05" x2="2018.30" y2="1006.05" stroke="#000" stroke-width="11.2" stroke-linecap="round"/>
<line x1="309.50" y1="867.40" x2="302.50" y2="867.40" stroke="#000" stroke-width="11.2" stroke-linecap="round"/>
<line x1="1999.00" y1="867.40" x2="2006.50" y2="867.40" stroke="#000" stroke-width="11.2" stroke-linecap="round"/>
<line x1="309.50" y1="728.75" x2="289.30" y2="728.75" stroke="#000" stroke-width="11.2" stroke-linecap="round"/>
<line x1="1999.00" y1="728.75" x2="2018.30" y2="728.75" stroke="#000" stroke-width="11.2" stroke-linecap="round"/>
<line x1="309.50" y1="590.10" x2="302.50" y2="590.10" stroke="#000" stroke-width="11.2" stroke-linecap="round"/>
<line x1="1999.00" y1="590.10" x2="2006.50" y2="590.10" stroke="#000" stroke-width="11.2" stroke-linecap="round"/>
<line x1="309.50" y1="451.45" x2="289.30" y2="451.45" stroke="#000" stroke-width="11.2" stroke-linecap="round"/>
<line x1="1999.00" y1="451.45" x2="2018.30" y2="451.45" stroke="#000" stroke-width="11.2" stroke-linecap="round"/>
<line x1="309.50" y1="312.80" x2="302.50" y2="312.80" stroke="#000" stroke-width="11.2" stroke-linecap="round"/>
<line x1="1999.00" y1="312.80" x2="2006.50" y2="312.80" stroke="#000" stroke-width="11.2" stroke-linecap="round"/>
<line x1="309.50" y1="174.15" x2="289.30" y2="174.15" stroke="#000" stroke-width="11.2" stroke-linecap="round"/>
<line x1="1999.00" y1="174.15" x2="2018.30" y2="174.15" stroke="#000" stroke-width="11.2" stroke-linecap="round"/>
<line x1="309.50" y1="35.50" x2="302.50" y2="35.50" stroke="#000" stroke-width="11.2" stroke-linecap="round"/>
<line x1="1999.00" y1="35.50" x2="2006.50" y2="35.50" stroke="#000" stroke-width="11.2" stroke-linecap="round"/>
<line x1="313.50" y1="1426.00" x2="313.50" y2="1449.00" stroke="#000" stroke-width="10" stroke-linecap="round"/>
<line x1="433.61" y1="1426.00" x2="433.61" y2="1435.00" stroke="#000" stroke-width="10" stroke-linecap="round"/>
<line x1="553.71" y1="1426.00" x2="553.71" y2="1449.00" stroke="#000" stroke-width="10" stroke-linecap="round"/>
<line x1="673.82" y1="1426.00" x2="673.82" y2="1435.00" stroke="#000" stroke-width="10" stroke-linecap="round"/>
<line x1="793.93" y1="1426.00" x2="793.93" y2="1449.00" stroke="#000" stroke-width="10" stroke-linecap="round"/>
<line x1="914.04" y1="1426.00" x2="914.04" y2="1435.00" stroke="#000" stroke-width="10" stroke-linecap="round"/>
<line x1="1034.14" y1="1426.00" x2="1034.14" y2="1449.00" stroke="#000" stroke-width="10" stroke-linecap="round"/>
<line x1="1154.25" y1="1426.00" x2="1154.25" y2="1435.00" stroke="#000" stroke-width="10" stroke-linecap="round"/>
<line x1="1274.36" y1="1426.00" x2="1274.36" y2="1449.00" stroke="#000" stroke-width="10" stroke-linecap="round"/>
<line x1="1394.46" y1="1426.00" x2="1394.46" y2="1435.00" stroke="#000" stroke-width="10" stroke-linecap="round"/>
<line x1="1514.57" y1="1426.00" x2="1514.57" y2="1449.00" stroke="#000" stroke-width="10" stroke-linecap="round"/>
<line x1="1634.68" y1="1426.00" x2="1634.68" y2="1435.00" stroke="#000" stroke-width="10" stroke-linecap="round"/>
<line x1="1754.79" y1="1426.00" x2="1754.79" y2="1449.00" stroke="#000" stroke-width="10" stroke-linecap="round"/>
<line x1="1874.89" y1="1426.00" x2="1874.89" y2="1435.00" stroke="#000" stroke-width="10" stroke-linecap="round"/>
<line x1="1995.00" y1="1426.00" x2="1995.00" y2="1449.00" stroke="#000" stroke-width="10" stroke-linecap="round"/>
<line x1="1999.00" y1="244.00" x2="2019.00" y2="244.00" stroke="#000" stroke-width="8" stroke-linecap="round"/>
<line x1="1999.00" y1="556.00" x2="2019.00" y2="556.00" stroke="#000" stroke-width="8" stroke-linecap="round"/>
<line x1="1999.00" y1="868.00" x2="2019.00" y2="868.00" stroke="#000" stroke-width="8" stroke-linecap="round"/>
<line x1="1999.00" y1="1180.00" x2="2019.00" y2="1180.00" stroke="#000" stroke-width="8" stroke-linecap="round"/>
<line x1="1999.00" y1="88.00" x2="2007.00" y2="88.00" stroke="#000" stroke-width="8" stroke-linecap="round"/>
<line x1="1999.00" y1="400.00" x2="2007.00" y2="400.00" stroke="#000" stroke-width="8" stroke-linecap="round"/>
<line x1="1999.00" y1="712.00" x2="2007.00" y2="712.00" stroke="#000" stroke-width="8" stroke-linecap="round"/>
<line x1="1999.00" y1="1024.00" x2="2007.00" y2="1024.00" stroke="#000" stroke-width="8" stroke-linecap="round"/>
<line x1="1999.00" y1="1336.00" x2="2007.00" y2="1336.00" stroke="#000" stroke-width="8" stroke-linecap="round"/>
<g filter="url(#bin)">
<g transform="translate(191.72,1305.35) scale(0.955,1)"><text font-size="87" letter-spacing="-6.0">20</text></g>
<g transform="translate(191.72,1028.05) scale(0.955,1)"><text font-size="87" letter-spacing="-6.0">40</text></g>
<g transform="translate(191.72,750.75) scale(0.955,1)"><text font-size="87" letter-spacing="-6.0">60</text></g>
<g transform="translate(191.72,473.45) scale(0.955,1)"><text font-size="87" letter-spacing="-6.0">80</text></g>
<g transform="translate(151.24,196.15) scale(0.955,1)"><text font-size="87" letter-spacing="-6.0">100</text><rect x="3.98" y="-10.38" width="15.98" height="12.88" fill="#fff"/><rect x="32.59" y="-10.38" width="14.87" height="12.88" fill="#fff"/></g>
<g transform="translate(252.01,1529.00) scale(0.955,1)"><text font-size="87" letter-spacing="-6.0">100</text><rect x="3.98" y="-10.38" width="15.98" height="12.88" fill="#fff"/><rect x="32.59" y="-10.38" width="14.87" height="12.88" fill="#fff"/></g>
<g transform="translate(493.40,1529.00) scale(0.955,1)"><text font-size="87" letter-spacing="-6.0">200</text></g>
<g transform="translate(734.10,1529.00) scale(0.955,1)"><text font-size="87" letter-spacing="-6.0">300</text></g>
<g transform="translate(974.64,1529.00) scale(0.955,1)"><text font-size="87" letter-spacing="-6.0">400</text></g>
<g transform="translate(1214.20,1529.00) scale(0.955,1)"><text font-size="87" letter-spacing="-6.0">500</text></g>
<g transform="translate(1454.17,1529.00) scale(0.955,1)"><text font-size="87" letter-spacing="-6.0">600</text></g>
<g transform="translate(1694.12,1529.00) scale(0.955,1)"><text font-size="87" letter-spacing="-6.0">700</text></g>
<g transform="translate(1934.80,1529.00) scale(0.955,1)"><text font-size="87" letter-spacing="-6.0">800</text></g>
<g transform="translate(2036.92,266.00) scale(0.955,1)"><text font-size="87" letter-spacing="-6.0">9</text></g>
<g transform="translate(2036.51,578.00) scale(0.955,1)"><text font-size="87" letter-spacing="-6.0">0</text></g>
<g transform="translate(2036.55,890.00) scale(0.955,1)"><text font-size="87" letter-spacing="-6.0">-9</text></g>
<g transform="translate(2036.55,1202.00) scale(0.955,1)"><text font-size="87" letter-spacing="-6.0">-18</text><rect x="26.95" y="-10.38" width="15.98" height="12.88" fill="#fff"/><rect x="55.56" y="-10.38" width="14.87" height="12.88" fill="#fff"/></g>
<text transform="translate(101.00,979.00) rotate(-90) scale(0.955,1)" font-size="87" letter-spacing="0.64">Weight (%)</text>
<text transform="translate(2190.00,1124.00) rotate(-90) scale(0.955,1)" font-size="87" letter-spacing="0.89">Deriv. Weight (%/min)</text>
<g transform="translate(842.07,1689.70) scale(0.955,1)"><text font-size="87" letter-spacing="-5.754">Temperature (</text></g>
<g transform="translate(1329.06,1643.80) scale(0.955,1)"><text font-size="52" letter-spacing="0">o</text></g>
<g transform="translate(1355.29,1689.70) scale(0.955,1)"><text font-size="87" letter-spacing="-6.166">C)</text></g>
<line x1="1368.8" y1="141.8" x2="1536.7" y2="141.8" stroke="#0000ff" stroke-width="8.2" stroke-linecap="round"/>
<line x1="1368.8" y1="244.8" x2="1536.7" y2="244.8" stroke="#ff0000" stroke-width="8.2" stroke-linecap="round"/>
<g transform="translate(1557.24,170.90) scale(0.955,1)"><text font-size="87" letter-spacing="-6.24">PVDF-1</text><rect x="233.78" y="-10.38" width="15.98" height="12.88" fill="#fff"/><rect x="262.39" y="-10.38" width="14.87" height="12.88" fill="#fff"/></g>
<g transform="translate(1557.24,274.10) scale(0.955,1)"><text font-size="87" letter-spacing="-6.24">PVDF-2</text></g>
<rect x="1360" y="92" width="460.9" height="200.8" fill="none" stroke="#000" stroke-width="3.4" stroke-linejoin="round"/>
<g transform="translate(552.07,288.00) scale(0.955,1)"><text font-size="87" letter-spacing="-7.67">TG</text></g>
<rect x="544.1" y="209" width="110.7" height="98.1" fill="none" stroke="#000" stroke-width="3.8" stroke-linejoin="round"/>
<g transform="translate(542.34,871.00) scale(0.955,1)"><text font-size="87" letter-spacing="-7.17">DTG</text></g>
<rect x="534.8" y="792.7" width="163.5" height="97.4" fill="none" stroke="#000" stroke-width="3.3" stroke-linejoin="round"/>
</g></svg>
</body></html>
